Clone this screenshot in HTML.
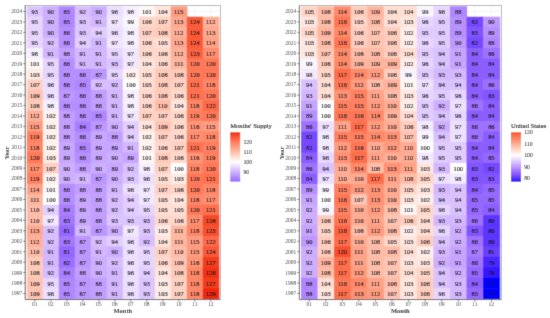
<!DOCTYPE html>
<html><head><meta charset="utf-8"><style>
html,body{margin:0;padding:0;background:#fff;width:550px;height:318px;overflow:hidden}
svg{display:block}
text{font-family:"Liberation Serif",serif}
.n{font-size:7px;fill:#1a1620;stroke:#1a1620;stroke-width:0.18px;text-anchor:middle}
.yl{font-size:5.5px;fill:#444;text-anchor:end}
.xl{font-size:5.6px;fill:#444;text-anchor:middle}
.at{font-size:6.5px;font-weight:bold;fill:#222;text-anchor:middle}
.lt{font-size:6.6px;fill:#111;stroke:#111;stroke-width:0.12px}
.ll{font-size:5.8px;fill:#333;stroke:#333;stroke-width:0.08px}
</style></head><body>
<svg width="550" height="318" viewBox="0 0 550 318">
<defs><filter id="bl" x="0" y="0" width="1" height="1"><feConvolveMatrix order="3" kernelMatrix="0.0121 0.0858 0.0121 0.0858 0.6084 0.0858 0.0121 0.0858 0.0121" edgeMode="duplicate" preserveAlpha="true"/></filter></defs><g filter="url(#bl)">
<rect width="550" height="318" fill="#fff"/>
<rect x="25.2" y="5.4" width="195.20" height="294.20" fill="#fff"/>
<line x1="34.80" y1="5.4" x2="34.80" y2="17.93" stroke="#ebebeb" stroke-width="0.5"/>
<line x1="50.80" y1="5.4" x2="50.80" y2="17.93" stroke="#ebebeb" stroke-width="0.5"/>
<line x1="66.80" y1="5.4" x2="66.80" y2="17.93" stroke="#ebebeb" stroke-width="0.5"/>
<line x1="82.80" y1="5.4" x2="82.80" y2="17.93" stroke="#ebebeb" stroke-width="0.5"/>
<line x1="98.80" y1="5.4" x2="98.80" y2="17.93" stroke="#ebebeb" stroke-width="0.5"/>
<line x1="114.80" y1="5.4" x2="114.80" y2="17.93" stroke="#ebebeb" stroke-width="0.5"/>
<line x1="130.80" y1="5.4" x2="130.80" y2="17.93" stroke="#ebebeb" stroke-width="0.5"/>
<line x1="146.80" y1="5.4" x2="146.80" y2="17.93" stroke="#ebebeb" stroke-width="0.5"/>
<line x1="162.80" y1="5.4" x2="162.80" y2="17.93" stroke="#ebebeb" stroke-width="0.5"/>
<line x1="178.80" y1="5.4" x2="178.80" y2="17.93" stroke="#ebebeb" stroke-width="0.5"/>
<line x1="194.80" y1="5.4" x2="194.80" y2="17.93" stroke="#ebebeb" stroke-width="0.5"/>
<line x1="210.80" y1="5.4" x2="210.80" y2="17.93" stroke="#ebebeb" stroke-width="0.5"/>
<line x1="25.2" y1="11.47" x2="220.4" y2="11.47" stroke="#ebebeb" stroke-width="0.5"/>
<rect x="26.80" y="6.25" width="16.60" height="11.04" fill="#ddc6ff"/>
<rect x="42.80" y="6.25" width="16.60" height="11.04" fill="#cdafff"/>
<rect x="58.80" y="6.25" width="16.60" height="11.04" fill="#b087ff"/>
<rect x="74.80" y="6.25" width="16.60" height="11.04" fill="#d8bfff"/>
<rect x="90.80" y="6.25" width="16.60" height="11.04" fill="#cdafff"/>
<rect x="106.80" y="6.25" width="16.60" height="11.04" fill="#ecdfff"/>
<rect x="122.80" y="6.25" width="16.60" height="11.04" fill="#f6efff"/>
<rect x="138.80" y="6.25" width="16.60" height="11.04" fill="#fff8f6"/>
<rect x="154.80" y="6.25" width="16.60" height="11.04" fill="#ffe5dc"/>
<rect x="170.80" y="6.25" width="16.60" height="11.04" fill="#ff9c80"/>
<rect x="26.80" y="16.70" width="16.60" height="11.04" fill="#e7d6ff"/>
<rect x="42.80" y="16.70" width="16.60" height="11.04" fill="#cdafff"/>
<rect x="58.80" y="16.70" width="16.60" height="11.04" fill="#b087ff"/>
<rect x="74.80" y="16.70" width="16.60" height="11.04" fill="#ddc6ff"/>
<rect x="90.80" y="16.70" width="16.60" height="11.04" fill="#d3b7ff"/>
<rect x="106.80" y="16.70" width="16.60" height="11.04" fill="#f1e7ff"/>
<rect x="122.80" y="16.70" width="16.60" height="11.04" fill="#faf7ff"/>
<rect x="138.80" y="16.70" width="16.60" height="11.04" fill="#ffd8cb"/>
<rect x="154.80" y="16.70" width="16.60" height="11.04" fill="#ffd1c2"/>
<rect x="170.80" y="16.70" width="16.60" height="11.04" fill="#ffa990"/>
<rect x="186.80" y="16.70" width="16.60" height="11.04" fill="#fa5a38"/>
<rect x="202.80" y="16.70" width="16.60" height="11.04" fill="#ffb098"/>
<rect x="26.80" y="27.14" width="16.60" height="11.04" fill="#e7d6ff"/>
<rect x="42.80" y="27.14" width="16.60" height="11.04" fill="#cdafff"/>
<rect x="58.80" y="27.14" width="16.60" height="11.04" fill="#b68fff"/>
<rect x="74.80" y="27.14" width="16.60" height="11.04" fill="#ddc6ff"/>
<rect x="90.80" y="27.14" width="16.60" height="11.04" fill="#e2ceff"/>
<rect x="106.80" y="27.14" width="16.60" height="11.04" fill="#ecdfff"/>
<rect x="122.80" y="27.14" width="16.60" height="11.04" fill="#f6efff"/>
<rect x="138.80" y="27.14" width="16.60" height="11.04" fill="#ffd1c2"/>
<rect x="154.80" y="27.14" width="16.60" height="11.04" fill="#ffcbb9"/>
<rect x="170.80" y="27.14" width="16.60" height="11.04" fill="#ffb098"/>
<rect x="186.80" y="27.14" width="16.60" height="11.04" fill="#fa5a38"/>
<rect x="202.80" y="27.14" width="16.60" height="11.04" fill="#ffa990"/>
<rect x="26.80" y="37.59" width="16.60" height="11.04" fill="#e7d6ff"/>
<rect x="42.80" y="37.59" width="16.60" height="11.04" fill="#d8bfff"/>
<rect x="58.80" y="37.59" width="16.60" height="11.04" fill="#b68fff"/>
<rect x="74.80" y="37.59" width="16.60" height="11.04" fill="#e2ceff"/>
<rect x="90.80" y="37.59" width="16.60" height="11.04" fill="#d3b7ff"/>
<rect x="106.80" y="37.59" width="16.60" height="11.04" fill="#f1e7ff"/>
<rect x="122.80" y="37.59" width="16.60" height="11.04" fill="#f6efff"/>
<rect x="138.80" y="37.59" width="16.60" height="11.04" fill="#ffd8cb"/>
<rect x="154.80" y="37.59" width="16.60" height="11.04" fill="#ffded3"/>
<rect x="170.80" y="37.59" width="16.60" height="11.04" fill="#ffa990"/>
<rect x="186.80" y="37.59" width="16.60" height="11.04" fill="#fa5a38"/>
<rect x="202.80" y="37.59" width="16.60" height="11.04" fill="#ffa388"/>
<rect x="26.80" y="48.03" width="16.60" height="11.04" fill="#f6efff"/>
<rect x="42.80" y="48.03" width="16.60" height="11.04" fill="#d3b7ff"/>
<rect x="58.80" y="48.03" width="16.60" height="11.04" fill="#c29fff"/>
<rect x="74.80" y="48.03" width="16.60" height="11.04" fill="#d3b7ff"/>
<rect x="90.80" y="48.03" width="16.60" height="11.04" fill="#d3b7ff"/>
<rect x="106.80" y="48.03" width="16.60" height="11.04" fill="#e7d6ff"/>
<rect x="122.80" y="48.03" width="16.60" height="11.04" fill="#f1e7ff"/>
<rect x="138.80" y="48.03" width="16.60" height="11.04" fill="#ffd8cb"/>
<rect x="154.80" y="48.03" width="16.60" height="11.04" fill="#ffd8cb"/>
<rect x="170.80" y="48.03" width="16.60" height="11.04" fill="#ffb098"/>
<rect x="186.80" y="48.03" width="16.60" height="11.04" fill="#fc6240"/>
<rect x="202.80" y="48.03" width="16.60" height="11.04" fill="#ff8e6f"/>
<rect x="26.80" y="58.48" width="16.60" height="11.04" fill="#fff8f6"/>
<rect x="42.80" y="58.48" width="16.60" height="11.04" fill="#e7d6ff"/>
<rect x="58.80" y="58.48" width="16.60" height="11.04" fill="#b68fff"/>
<rect x="74.80" y="58.48" width="16.60" height="11.04" fill="#d3b7ff"/>
<rect x="90.80" y="58.48" width="16.60" height="11.04" fill="#d3b7ff"/>
<rect x="106.80" y="58.48" width="16.60" height="11.04" fill="#ddc6ff"/>
<rect x="122.80" y="58.48" width="16.60" height="11.04" fill="#f1e7ff"/>
<rect x="138.80" y="58.48" width="16.60" height="11.04" fill="#ffe5dc"/>
<rect x="154.80" y="58.48" width="16.60" height="11.04" fill="#ffd8cb"/>
<rect x="170.80" y="58.48" width="16.60" height="11.04" fill="#ffb7a0"/>
<rect x="186.80" y="58.48" width="16.60" height="11.04" fill="#ff7958"/>
<rect x="202.80" y="58.48" width="16.60" height="11.04" fill="#ff7958"/>
<rect x="26.80" y="68.92" width="16.60" height="11.04" fill="#ffebe5"/>
<rect x="42.80" y="68.92" width="16.60" height="11.04" fill="#e7d6ff"/>
<rect x="58.80" y="68.92" width="16.60" height="11.04" fill="#b68fff"/>
<rect x="74.80" y="68.92" width="16.60" height="11.04" fill="#b68fff"/>
<rect x="90.80" y="68.92" width="16.60" height="11.04" fill="#bc97ff"/>
<rect x="106.80" y="68.92" width="16.60" height="11.04" fill="#e7d6ff"/>
<rect x="122.80" y="68.92" width="16.60" height="11.04" fill="#fff2ed"/>
<rect x="138.80" y="68.92" width="16.60" height="11.04" fill="#ffded3"/>
<rect x="154.80" y="68.92" width="16.60" height="11.04" fill="#ffcbb9"/>
<rect x="170.80" y="68.92" width="16.60" height="11.04" fill="#ffcbb9"/>
<rect x="186.80" y="68.92" width="16.60" height="11.04" fill="#ff7958"/>
<rect x="202.80" y="68.92" width="16.60" height="11.04" fill="#ff7958"/>
<rect x="26.80" y="79.37" width="16.60" height="11.04" fill="#ffd1c2"/>
<rect x="42.80" y="79.37" width="16.60" height="11.04" fill="#ecdfff"/>
<rect x="58.80" y="79.37" width="16.60" height="11.04" fill="#b68fff"/>
<rect x="74.80" y="79.37" width="16.60" height="11.04" fill="#b087ff"/>
<rect x="90.80" y="79.37" width="16.60" height="11.04" fill="#d8bfff"/>
<rect x="106.80" y="79.37" width="16.60" height="11.04" fill="#d8bfff"/>
<rect x="122.80" y="79.37" width="16.60" height="11.04" fill="#ffffff"/>
<rect x="138.80" y="79.37" width="16.60" height="11.04" fill="#ffded3"/>
<rect x="154.80" y="79.37" width="16.60" height="11.04" fill="#ffcbb9"/>
<rect x="170.80" y="79.37" width="16.60" height="11.04" fill="#ffd1c2"/>
<rect x="186.80" y="79.37" width="16.60" height="11.04" fill="#ff7150"/>
<rect x="202.80" y="79.37" width="16.60" height="11.04" fill="#ff8767"/>
<rect x="26.80" y="89.81" width="16.60" height="11.04" fill="#ffc4b1"/>
<rect x="42.80" y="89.81" width="16.60" height="11.04" fill="#ecdfff"/>
<rect x="58.80" y="89.81" width="16.60" height="11.04" fill="#bc97ff"/>
<rect x="74.80" y="89.81" width="16.60" height="11.04" fill="#b68fff"/>
<rect x="90.80" y="89.81" width="16.60" height="11.04" fill="#c29fff"/>
<rect x="106.80" y="89.81" width="16.60" height="11.04" fill="#d3b7ff"/>
<rect x="122.80" y="89.81" width="16.60" height="11.04" fill="#f6efff"/>
<rect x="138.80" y="89.81" width="16.60" height="11.04" fill="#ffd8cb"/>
<rect x="154.80" y="89.81" width="16.60" height="11.04" fill="#ffcbb9"/>
<rect x="170.80" y="89.81" width="16.60" height="11.04" fill="#ffd8cb"/>
<rect x="186.80" y="89.81" width="16.60" height="11.04" fill="#ff7150"/>
<rect x="202.80" y="89.81" width="16.60" height="11.04" fill="#ff7958"/>
<rect x="26.80" y="100.25" width="16.60" height="11.04" fill="#ffcbb9"/>
<rect x="42.80" y="100.25" width="16.60" height="11.04" fill="#f6efff"/>
<rect x="58.80" y="100.25" width="16.60" height="11.04" fill="#b68fff"/>
<rect x="74.80" y="100.25" width="16.60" height="11.04" fill="#b68fff"/>
<rect x="90.80" y="100.25" width="16.60" height="11.04" fill="#c29fff"/>
<rect x="106.80" y="100.25" width="16.60" height="11.04" fill="#d3b7ff"/>
<rect x="122.80" y="100.25" width="16.60" height="11.04" fill="#f6efff"/>
<rect x="138.80" y="100.25" width="16.60" height="11.04" fill="#ffd8cb"/>
<rect x="154.80" y="100.25" width="16.60" height="11.04" fill="#ffbda9"/>
<rect x="170.80" y="100.25" width="16.60" height="11.04" fill="#ffe5dc"/>
<rect x="186.80" y="100.25" width="16.60" height="11.04" fill="#ff8767"/>
<rect x="202.80" y="100.25" width="16.60" height="11.04" fill="#fe6a48"/>
<rect x="26.80" y="110.70" width="16.60" height="11.04" fill="#ffb098"/>
<rect x="42.80" y="110.70" width="16.60" height="11.04" fill="#fff2ed"/>
<rect x="58.80" y="110.70" width="16.60" height="11.04" fill="#c29fff"/>
<rect x="74.80" y="110.70" width="16.60" height="11.04" fill="#b68fff"/>
<rect x="90.80" y="110.70" width="16.60" height="11.04" fill="#b087ff"/>
<rect x="106.80" y="110.70" width="16.60" height="11.04" fill="#d3b7ff"/>
<rect x="122.80" y="110.70" width="16.60" height="11.04" fill="#f1e7ff"/>
<rect x="138.80" y="110.70" width="16.60" height="11.04" fill="#ffd1c2"/>
<rect x="154.80" y="110.70" width="16.60" height="11.04" fill="#ffd1c2"/>
<rect x="170.80" y="110.70" width="16.60" height="11.04" fill="#ffd8cb"/>
<rect x="186.80" y="110.70" width="16.60" height="11.04" fill="#ff8060"/>
<rect x="202.80" y="110.70" width="16.60" height="11.04" fill="#ff7958"/>
<rect x="26.80" y="121.15" width="16.60" height="11.04" fill="#ff9c80"/>
<rect x="42.80" y="121.15" width="16.60" height="11.04" fill="#fff2ed"/>
<rect x="58.80" y="121.15" width="16.60" height="11.04" fill="#c29fff"/>
<rect x="74.80" y="121.15" width="16.60" height="11.04" fill="#a97fff"/>
<rect x="90.80" y="121.15" width="16.60" height="11.04" fill="#bc97ff"/>
<rect x="106.80" y="121.15" width="16.60" height="11.04" fill="#cdafff"/>
<rect x="122.80" y="121.15" width="16.60" height="11.04" fill="#e2ceff"/>
<rect x="138.80" y="121.15" width="16.60" height="11.04" fill="#ffe5dc"/>
<rect x="154.80" y="121.15" width="16.60" height="11.04" fill="#ffc4b1"/>
<rect x="170.80" y="121.15" width="16.60" height="11.04" fill="#ffd8cb"/>
<rect x="186.80" y="121.15" width="16.60" height="11.04" fill="#ff9577"/>
<rect x="202.80" y="121.15" width="16.60" height="11.04" fill="#ff9c80"/>
<rect x="26.80" y="131.59" width="16.60" height="11.04" fill="#ff8060"/>
<rect x="42.80" y="131.59" width="16.60" height="11.04" fill="#fff2ed"/>
<rect x="58.80" y="131.59" width="16.60" height="11.04" fill="#c29fff"/>
<rect x="74.80" y="131.59" width="16.60" height="11.04" fill="#b68fff"/>
<rect x="90.80" y="131.59" width="16.60" height="11.04" fill="#c8a7ff"/>
<rect x="106.80" y="131.59" width="16.60" height="11.04" fill="#c29fff"/>
<rect x="122.80" y="131.59" width="16.60" height="11.04" fill="#e2ceff"/>
<rect x="138.80" y="131.59" width="16.60" height="11.04" fill="#fff2ed"/>
<rect x="154.80" y="131.59" width="16.60" height="11.04" fill="#ffd1c2"/>
<rect x="170.80" y="131.59" width="16.60" height="11.04" fill="#ffd8cb"/>
<rect x="186.80" y="131.59" width="16.60" height="11.04" fill="#ff8e6f"/>
<rect x="202.80" y="131.59" width="16.60" height="11.04" fill="#ff8767"/>
<rect x="26.80" y="142.03" width="16.60" height="11.04" fill="#ff8767"/>
<rect x="42.80" y="142.03" width="16.60" height="11.04" fill="#fff2ed"/>
<rect x="58.80" y="142.03" width="16.60" height="11.04" fill="#c8a7ff"/>
<rect x="74.80" y="142.03" width="16.60" height="11.04" fill="#b087ff"/>
<rect x="90.80" y="142.03" width="16.60" height="11.04" fill="#c8a7ff"/>
<rect x="106.80" y="142.03" width="16.60" height="11.04" fill="#c8a7ff"/>
<rect x="122.80" y="142.03" width="16.60" height="11.04" fill="#d3b7ff"/>
<rect x="138.80" y="142.03" width="16.60" height="11.04" fill="#fff2ed"/>
<rect x="154.80" y="142.03" width="16.60" height="11.04" fill="#ffd8cb"/>
<rect x="170.80" y="142.03" width="16.60" height="11.04" fill="#ffd1c2"/>
<rect x="186.80" y="142.03" width="16.60" height="11.04" fill="#ff7150"/>
<rect x="202.80" y="142.03" width="16.60" height="11.04" fill="#ff8060"/>
<rect x="26.80" y="152.48" width="16.60" height="11.04" fill="#ff7958"/>
<rect x="42.80" y="152.48" width="16.60" height="11.04" fill="#ffebe5"/>
<rect x="58.80" y="152.48" width="16.60" height="11.04" fill="#c8a7ff"/>
<rect x="74.80" y="152.48" width="16.60" height="11.04" fill="#b68fff"/>
<rect x="90.80" y="152.48" width="16.60" height="11.04" fill="#c8a7ff"/>
<rect x="106.80" y="152.48" width="16.60" height="11.04" fill="#cdafff"/>
<rect x="122.80" y="152.48" width="16.60" height="11.04" fill="#c8a7ff"/>
<rect x="138.80" y="152.48" width="16.60" height="11.04" fill="#fff8f6"/>
<rect x="154.80" y="152.48" width="16.60" height="11.04" fill="#ffcbb9"/>
<rect x="170.80" y="152.48" width="16.60" height="11.04" fill="#ffd8cb"/>
<rect x="186.80" y="152.48" width="16.60" height="11.04" fill="#ff9577"/>
<rect x="202.80" y="152.48" width="16.60" height="11.04" fill="#ff8060"/>
<rect x="26.80" y="162.93" width="16.60" height="11.04" fill="#ff8e6f"/>
<rect x="42.80" y="162.93" width="16.60" height="11.04" fill="#ffd1c2"/>
<rect x="58.80" y="162.93" width="16.60" height="11.04" fill="#cdafff"/>
<rect x="74.80" y="162.93" width="16.60" height="11.04" fill="#c29fff"/>
<rect x="90.80" y="162.93" width="16.60" height="11.04" fill="#cdafff"/>
<rect x="106.80" y="162.93" width="16.60" height="11.04" fill="#c8a7ff"/>
<rect x="122.80" y="162.93" width="16.60" height="11.04" fill="#d8bfff"/>
<rect x="138.80" y="162.93" width="16.60" height="11.04" fill="#f6efff"/>
<rect x="154.80" y="162.93" width="16.60" height="11.04" fill="#ffd1c2"/>
<rect x="170.80" y="162.93" width="16.60" height="11.04" fill="#ffffff"/>
<rect x="186.80" y="162.93" width="16.60" height="11.04" fill="#ff8767"/>
<rect x="202.80" y="162.93" width="16.60" height="11.04" fill="#ff7958"/>
<rect x="26.80" y="173.37" width="16.60" height="11.04" fill="#ff8060"/>
<rect x="42.80" y="173.37" width="16.60" height="11.04" fill="#fff2ed"/>
<rect x="58.80" y="173.37" width="16.60" height="11.04" fill="#cdafff"/>
<rect x="74.80" y="173.37" width="16.60" height="11.04" fill="#d3b7ff"/>
<rect x="90.80" y="173.37" width="16.60" height="11.04" fill="#bc97ff"/>
<rect x="106.80" y="173.37" width="16.60" height="11.04" fill="#cdafff"/>
<rect x="122.80" y="173.37" width="16.60" height="11.04" fill="#ddc6ff"/>
<rect x="138.80" y="173.37" width="16.60" height="11.04" fill="#ecdfff"/>
<rect x="154.80" y="173.37" width="16.60" height="11.04" fill="#ffded3"/>
<rect x="170.80" y="173.37" width="16.60" height="11.04" fill="#ffebe5"/>
<rect x="186.80" y="173.37" width="16.60" height="11.04" fill="#ff7958"/>
<rect x="202.80" y="173.37" width="16.60" height="11.04" fill="#ff7150"/>
<rect x="26.80" y="183.81" width="16.60" height="11.04" fill="#ffa388"/>
<rect x="42.80" y="183.81" width="16.60" height="11.04" fill="#fff8f6"/>
<rect x="58.80" y="183.81" width="16.60" height="11.04" fill="#b68fff"/>
<rect x="74.80" y="183.81" width="16.60" height="11.04" fill="#c29fff"/>
<rect x="90.80" y="183.81" width="16.60" height="11.04" fill="#c29fff"/>
<rect x="106.80" y="183.81" width="16.60" height="11.04" fill="#d3b7ff"/>
<rect x="122.80" y="183.81" width="16.60" height="11.04" fill="#ecdfff"/>
<rect x="138.80" y="183.81" width="16.60" height="11.04" fill="#f1e7ff"/>
<rect x="154.80" y="183.81" width="16.60" height="11.04" fill="#ffd1c2"/>
<rect x="170.80" y="183.81" width="16.60" height="11.04" fill="#ffd8cb"/>
<rect x="186.80" y="183.81" width="16.60" height="11.04" fill="#ff7958"/>
<rect x="202.80" y="183.81" width="16.60" height="11.04" fill="#ff8767"/>
<rect x="26.80" y="194.26" width="16.60" height="11.04" fill="#ffb7a0"/>
<rect x="42.80" y="194.26" width="16.60" height="11.04" fill="#ffffff"/>
<rect x="58.80" y="194.26" width="16.60" height="11.04" fill="#b68fff"/>
<rect x="74.80" y="194.26" width="16.60" height="11.04" fill="#c8a7ff"/>
<rect x="90.80" y="194.26" width="16.60" height="11.04" fill="#c29fff"/>
<rect x="106.80" y="194.26" width="16.60" height="11.04" fill="#d8bfff"/>
<rect x="122.80" y="194.26" width="16.60" height="11.04" fill="#e2ceff"/>
<rect x="138.80" y="194.26" width="16.60" height="11.04" fill="#f1e7ff"/>
<rect x="154.80" y="194.26" width="16.60" height="11.04" fill="#ffded3"/>
<rect x="170.80" y="194.26" width="16.60" height="11.04" fill="#ffe5dc"/>
<rect x="186.80" y="194.26" width="16.60" height="11.04" fill="#ff8767"/>
<rect x="202.80" y="194.26" width="16.60" height="11.04" fill="#ff8e6f"/>
<rect x="26.80" y="204.71" width="16.60" height="11.04" fill="#ffbda9"/>
<rect x="42.80" y="204.71" width="16.60" height="11.04" fill="#e2ceff"/>
<rect x="58.80" y="204.71" width="16.60" height="11.04" fill="#a97fff"/>
<rect x="74.80" y="204.71" width="16.60" height="11.04" fill="#c8a7ff"/>
<rect x="90.80" y="204.71" width="16.60" height="11.04" fill="#c29fff"/>
<rect x="106.80" y="204.71" width="16.60" height="11.04" fill="#d8bfff"/>
<rect x="122.80" y="204.71" width="16.60" height="11.04" fill="#e2ceff"/>
<rect x="138.80" y="204.71" width="16.60" height="11.04" fill="#e7d6ff"/>
<rect x="154.80" y="204.71" width="16.60" height="11.04" fill="#ffded3"/>
<rect x="170.80" y="204.71" width="16.60" height="11.04" fill="#ffded3"/>
<rect x="186.80" y="204.71" width="16.60" height="11.04" fill="#ff7958"/>
<rect x="202.80" y="204.71" width="16.60" height="11.04" fill="#ff7150"/>
<rect x="26.80" y="215.15" width="16.60" height="11.04" fill="#ffbda9"/>
<rect x="42.80" y="215.15" width="16.60" height="11.04" fill="#f1e7ff"/>
<rect x="58.80" y="215.15" width="16.60" height="11.04" fill="#a378ff"/>
<rect x="74.80" y="215.15" width="16.60" height="11.04" fill="#c8a7ff"/>
<rect x="90.80" y="215.15" width="16.60" height="11.04" fill="#c29fff"/>
<rect x="106.80" y="215.15" width="16.60" height="11.04" fill="#ddc6ff"/>
<rect x="122.80" y="215.15" width="16.60" height="11.04" fill="#ddc6ff"/>
<rect x="138.80" y="215.15" width="16.60" height="11.04" fill="#ddc6ff"/>
<rect x="154.80" y="215.15" width="16.60" height="11.04" fill="#ffd8cb"/>
<rect x="170.80" y="215.15" width="16.60" height="11.04" fill="#ffd8cb"/>
<rect x="186.80" y="215.15" width="16.60" height="11.04" fill="#ff8e6f"/>
<rect x="202.80" y="215.15" width="16.60" height="11.04" fill="#f64828"/>
<rect x="26.80" y="225.59" width="16.60" height="11.04" fill="#ffa990"/>
<rect x="42.80" y="225.59" width="16.60" height="11.04" fill="#d8bfff"/>
<rect x="58.80" y="225.59" width="16.60" height="11.04" fill="#9468ff"/>
<rect x="74.80" y="225.59" width="16.60" height="11.04" fill="#d3b7ff"/>
<rect x="90.80" y="225.59" width="16.60" height="11.04" fill="#bc97ff"/>
<rect x="106.80" y="225.59" width="16.60" height="11.04" fill="#cdafff"/>
<rect x="122.80" y="225.59" width="16.60" height="11.04" fill="#f1e7ff"/>
<rect x="138.80" y="225.59" width="16.60" height="11.04" fill="#ddc6ff"/>
<rect x="154.80" y="225.59" width="16.60" height="11.04" fill="#ffebe5"/>
<rect x="170.80" y="225.59" width="16.60" height="11.04" fill="#ffb7a0"/>
<rect x="186.80" y="225.59" width="16.60" height="11.04" fill="#ff8767"/>
<rect x="202.80" y="225.59" width="16.60" height="11.04" fill="#f85130"/>
<rect x="26.80" y="236.04" width="16.60" height="11.04" fill="#ffb098"/>
<rect x="42.80" y="236.04" width="16.60" height="11.04" fill="#d8bfff"/>
<rect x="58.80" y="236.04" width="16.60" height="11.04" fill="#a378ff"/>
<rect x="74.80" y="236.04" width="16.60" height="11.04" fill="#bc97ff"/>
<rect x="90.80" y="236.04" width="16.60" height="11.04" fill="#d8bfff"/>
<rect x="106.80" y="236.04" width="16.60" height="11.04" fill="#e2ceff"/>
<rect x="122.80" y="236.04" width="16.60" height="11.04" fill="#ecdfff"/>
<rect x="138.80" y="236.04" width="16.60" height="11.04" fill="#d8bfff"/>
<rect x="154.80" y="236.04" width="16.60" height="11.04" fill="#ffe5dc"/>
<rect x="170.80" y="236.04" width="16.60" height="11.04" fill="#ffb7a0"/>
<rect x="186.80" y="236.04" width="16.60" height="11.04" fill="#ff9c80"/>
<rect x="202.80" y="236.04" width="16.60" height="11.04" fill="#fe6a48"/>
<rect x="26.80" y="246.49" width="16.60" height="11.04" fill="#ffbda9"/>
<rect x="42.80" y="246.49" width="16.60" height="11.04" fill="#d3b7ff"/>
<rect x="58.80" y="246.49" width="16.60" height="11.04" fill="#9468ff"/>
<rect x="74.80" y="246.49" width="16.60" height="11.04" fill="#bc97ff"/>
<rect x="90.80" y="246.49" width="16.60" height="11.04" fill="#d3b7ff"/>
<rect x="106.80" y="246.49" width="16.60" height="11.04" fill="#cdafff"/>
<rect x="122.80" y="246.49" width="16.60" height="11.04" fill="#ecdfff"/>
<rect x="138.80" y="246.49" width="16.60" height="11.04" fill="#e7d6ff"/>
<rect x="154.80" y="246.49" width="16.60" height="11.04" fill="#ffd1c2"/>
<rect x="170.80" y="246.49" width="16.60" height="11.04" fill="#ffbda9"/>
<rect x="186.80" y="246.49" width="16.60" height="11.04" fill="#ff9c80"/>
<rect x="202.80" y="246.49" width="16.60" height="11.04" fill="#fa5a38"/>
<rect x="26.80" y="256.93" width="16.60" height="11.04" fill="#ffcbb9"/>
<rect x="42.80" y="256.93" width="16.60" height="11.04" fill="#d3b7ff"/>
<rect x="58.80" y="256.93" width="16.60" height="11.04" fill="#9c70ff"/>
<rect x="74.80" y="256.93" width="16.60" height="11.04" fill="#bc97ff"/>
<rect x="90.80" y="256.93" width="16.60" height="11.04" fill="#cdafff"/>
<rect x="106.80" y="256.93" width="16.60" height="11.04" fill="#d8bfff"/>
<rect x="122.80" y="256.93" width="16.60" height="11.04" fill="#ecdfff"/>
<rect x="138.80" y="256.93" width="16.60" height="11.04" fill="#e7d6ff"/>
<rect x="154.80" y="256.93" width="16.60" height="11.04" fill="#ffd8cb"/>
<rect x="170.80" y="256.93" width="16.60" height="11.04" fill="#ffc4b1"/>
<rect x="186.80" y="256.93" width="16.60" height="11.04" fill="#ff9577"/>
<rect x="202.80" y="256.93" width="16.60" height="11.04" fill="#f43e1f"/>
<rect x="26.80" y="267.38" width="16.60" height="11.04" fill="#ffcbb9"/>
<rect x="42.80" y="267.38" width="16.60" height="11.04" fill="#d8bfff"/>
<rect x="58.80" y="267.38" width="16.60" height="11.04" fill="#a97fff"/>
<rect x="74.80" y="267.38" width="16.60" height="11.04" fill="#c29fff"/>
<rect x="90.80" y="267.38" width="16.60" height="11.04" fill="#cdafff"/>
<rect x="106.80" y="267.38" width="16.60" height="11.04" fill="#d3b7ff"/>
<rect x="122.80" y="267.38" width="16.60" height="11.04" fill="#ecdfff"/>
<rect x="138.80" y="267.38" width="16.60" height="11.04" fill="#e2ceff"/>
<rect x="154.80" y="267.38" width="16.60" height="11.04" fill="#ffe5dc"/>
<rect x="170.80" y="267.38" width="16.60" height="11.04" fill="#ffcbb9"/>
<rect x="186.80" y="267.38" width="16.60" height="11.04" fill="#ff8767"/>
<rect x="202.80" y="267.38" width="16.60" height="11.04" fill="#f23316"/>
<rect x="26.80" y="277.82" width="16.60" height="11.04" fill="#ffc4b1"/>
<rect x="42.80" y="277.82" width="16.60" height="11.04" fill="#e7d6ff"/>
<rect x="58.80" y="277.82" width="16.60" height="11.04" fill="#b087ff"/>
<rect x="74.80" y="277.82" width="16.60" height="11.04" fill="#bc97ff"/>
<rect x="90.80" y="277.82" width="16.60" height="11.04" fill="#c29fff"/>
<rect x="106.80" y="277.82" width="16.60" height="11.04" fill="#d3b7ff"/>
<rect x="122.80" y="277.82" width="16.60" height="11.04" fill="#ecdfff"/>
<rect x="138.80" y="277.82" width="16.60" height="11.04" fill="#ddc6ff"/>
<rect x="154.80" y="277.82" width="16.60" height="11.04" fill="#ffebe5"/>
<rect x="170.80" y="277.82" width="16.60" height="11.04" fill="#ffd1c2"/>
<rect x="186.80" y="277.82" width="16.60" height="11.04" fill="#ff8767"/>
<rect x="202.80" y="277.82" width="16.60" height="11.04" fill="#f43e1f"/>
<rect x="26.80" y="288.26" width="16.60" height="11.04" fill="#ffc4b1"/>
<rect x="42.80" y="288.26" width="16.60" height="11.04" fill="#ecdfff"/>
<rect x="58.80" y="288.26" width="16.60" height="11.04" fill="#b087ff"/>
<rect x="74.80" y="288.26" width="16.60" height="11.04" fill="#bc97ff"/>
<rect x="90.80" y="288.26" width="16.60" height="11.04" fill="#c29fff"/>
<rect x="106.80" y="288.26" width="16.60" height="11.04" fill="#d3b7ff"/>
<rect x="122.80" y="288.26" width="16.60" height="11.04" fill="#ecdfff"/>
<rect x="138.80" y="288.26" width="16.60" height="11.04" fill="#ddc6ff"/>
<rect x="154.80" y="288.26" width="16.60" height="11.04" fill="#ffebe5"/>
<rect x="170.80" y="288.26" width="16.60" height="11.04" fill="#ffd1c2"/>
<rect x="186.80" y="288.26" width="16.60" height="11.04" fill="#ff8767"/>
<rect x="202.80" y="288.26" width="16.60" height="11.04" fill="#ef250b"/>
<text transform="translate(34.80,14.02) scale(0.92,1)" class="n">93</text>
<text transform="translate(50.80,14.02) scale(0.92,1)" class="n">90</text>
<text transform="translate(66.80,14.02) scale(0.92,1)" class="n">85</text>
<text transform="translate(82.80,14.02) scale(0.92,1)" class="n">92</text>
<text transform="translate(98.80,14.02) scale(0.92,1)" class="n">90</text>
<text transform="translate(114.80,14.02) scale(0.92,1)" class="n">96</text>
<text transform="translate(130.80,14.02) scale(0.92,1)" class="n">98</text>
<text transform="translate(146.80,14.02) scale(0.92,1)" class="n">101</text>
<text transform="translate(162.80,14.02) scale(0.92,1)" class="n">104</text>
<text transform="translate(178.80,14.02) scale(0.92,1)" class="n">115</text>
<text transform="translate(34.80,24.47) scale(0.92,1)" class="n">95</text>
<text transform="translate(50.80,24.47) scale(0.92,1)" class="n">90</text>
<text transform="translate(66.80,24.47) scale(0.92,1)" class="n">85</text>
<text transform="translate(82.80,24.47) scale(0.92,1)" class="n">93</text>
<text transform="translate(98.80,24.47) scale(0.92,1)" class="n">91</text>
<text transform="translate(114.80,24.47) scale(0.92,1)" class="n">97</text>
<text transform="translate(130.80,24.47) scale(0.92,1)" class="n">99</text>
<text transform="translate(146.80,24.47) scale(0.92,1)" class="n">106</text>
<text transform="translate(162.80,24.47) scale(0.92,1)" class="n">107</text>
<text transform="translate(178.80,24.47) scale(0.92,1)" class="n">113</text>
<text transform="translate(194.80,24.47) scale(0.92,1)" class="n">124</text>
<text transform="translate(210.80,24.47) scale(0.92,1)" class="n">112</text>
<text transform="translate(34.80,34.91) scale(0.92,1)" class="n">95</text>
<text transform="translate(50.80,34.91) scale(0.92,1)" class="n">90</text>
<text transform="translate(66.80,34.91) scale(0.92,1)" class="n">86</text>
<text transform="translate(82.80,34.91) scale(0.92,1)" class="n">93</text>
<text transform="translate(98.80,34.91) scale(0.92,1)" class="n">94</text>
<text transform="translate(114.80,34.91) scale(0.92,1)" class="n">96</text>
<text transform="translate(130.80,34.91) scale(0.92,1)" class="n">98</text>
<text transform="translate(146.80,34.91) scale(0.92,1)" class="n">107</text>
<text transform="translate(162.80,34.91) scale(0.92,1)" class="n">108</text>
<text transform="translate(178.80,34.91) scale(0.92,1)" class="n">112</text>
<text transform="translate(194.80,34.91) scale(0.92,1)" class="n">124</text>
<text transform="translate(210.80,34.91) scale(0.92,1)" class="n">113</text>
<text transform="translate(34.80,45.36) scale(0.92,1)" class="n">95</text>
<text transform="translate(50.80,45.36) scale(0.92,1)" class="n">92</text>
<text transform="translate(66.80,45.36) scale(0.92,1)" class="n">86</text>
<text transform="translate(82.80,45.36) scale(0.92,1)" class="n">94</text>
<text transform="translate(98.80,45.36) scale(0.92,1)" class="n">91</text>
<text transform="translate(114.80,45.36) scale(0.92,1)" class="n">97</text>
<text transform="translate(130.80,45.36) scale(0.92,1)" class="n">98</text>
<text transform="translate(146.80,45.36) scale(0.92,1)" class="n">106</text>
<text transform="translate(162.80,45.36) scale(0.92,1)" class="n">105</text>
<text transform="translate(178.80,45.36) scale(0.92,1)" class="n">113</text>
<text transform="translate(194.80,45.36) scale(0.92,1)" class="n">124</text>
<text transform="translate(210.80,45.36) scale(0.92,1)" class="n">114</text>
<text transform="translate(34.80,55.80) scale(0.92,1)" class="n">98</text>
<text transform="translate(50.80,55.80) scale(0.92,1)" class="n">91</text>
<text transform="translate(66.80,55.80) scale(0.92,1)" class="n">88</text>
<text transform="translate(82.80,55.80) scale(0.92,1)" class="n">91</text>
<text transform="translate(98.80,55.80) scale(0.92,1)" class="n">91</text>
<text transform="translate(114.80,55.80) scale(0.92,1)" class="n">95</text>
<text transform="translate(130.80,55.80) scale(0.92,1)" class="n">97</text>
<text transform="translate(146.80,55.80) scale(0.92,1)" class="n">106</text>
<text transform="translate(162.80,55.80) scale(0.92,1)" class="n">106</text>
<text transform="translate(178.80,55.80) scale(0.92,1)" class="n">112</text>
<text transform="translate(194.80,55.80) scale(0.92,1)" class="n">123</text>
<text transform="translate(210.80,55.80) scale(0.92,1)" class="n">117</text>
<text transform="translate(34.80,66.25) scale(0.92,1)" class="n">101</text>
<text transform="translate(50.80,66.25) scale(0.92,1)" class="n">95</text>
<text transform="translate(66.80,66.25) scale(0.92,1)" class="n">86</text>
<text transform="translate(82.80,66.25) scale(0.92,1)" class="n">91</text>
<text transform="translate(98.80,66.25) scale(0.92,1)" class="n">91</text>
<text transform="translate(114.80,66.25) scale(0.92,1)" class="n">93</text>
<text transform="translate(130.80,66.25) scale(0.92,1)" class="n">97</text>
<text transform="translate(146.80,66.25) scale(0.92,1)" class="n">104</text>
<text transform="translate(162.80,66.25) scale(0.92,1)" class="n">106</text>
<text transform="translate(178.80,66.25) scale(0.92,1)" class="n">111</text>
<text transform="translate(194.80,66.25) scale(0.92,1)" class="n">120</text>
<text transform="translate(210.80,66.25) scale(0.92,1)" class="n">120</text>
<text transform="translate(34.80,76.69) scale(0.92,1)" class="n">103</text>
<text transform="translate(50.80,76.69) scale(0.92,1)" class="n">95</text>
<text transform="translate(66.80,76.69) scale(0.92,1)" class="n">86</text>
<text transform="translate(82.80,76.69) scale(0.92,1)" class="n">86</text>
<text transform="translate(98.80,76.69) scale(0.92,1)" class="n">87</text>
<text transform="translate(114.80,76.69) scale(0.92,1)" class="n">95</text>
<text transform="translate(130.80,76.69) scale(0.92,1)" class="n">102</text>
<text transform="translate(146.80,76.69) scale(0.92,1)" class="n">105</text>
<text transform="translate(162.80,76.69) scale(0.92,1)" class="n">108</text>
<text transform="translate(178.80,76.69) scale(0.92,1)" class="n">108</text>
<text transform="translate(194.80,76.69) scale(0.92,1)" class="n">120</text>
<text transform="translate(210.80,76.69) scale(0.92,1)" class="n">120</text>
<text transform="translate(34.80,87.14) scale(0.92,1)" class="n">107</text>
<text transform="translate(50.80,87.14) scale(0.92,1)" class="n">96</text>
<text transform="translate(66.80,87.14) scale(0.92,1)" class="n">86</text>
<text transform="translate(82.80,87.14) scale(0.92,1)" class="n">85</text>
<text transform="translate(98.80,87.14) scale(0.92,1)" class="n">92</text>
<text transform="translate(114.80,87.14) scale(0.92,1)" class="n">92</text>
<text transform="translate(130.80,87.14) scale(0.92,1)" class="n">100</text>
<text transform="translate(146.80,87.14) scale(0.92,1)" class="n">105</text>
<text transform="translate(162.80,87.14) scale(0.92,1)" class="n">108</text>
<text transform="translate(178.80,87.14) scale(0.92,1)" class="n">107</text>
<text transform="translate(194.80,87.14) scale(0.92,1)" class="n">121</text>
<text transform="translate(210.80,87.14) scale(0.92,1)" class="n">118</text>
<text transform="translate(34.80,97.58) scale(0.92,1)" class="n">109</text>
<text transform="translate(50.80,97.58) scale(0.92,1)" class="n">96</text>
<text transform="translate(66.80,97.58) scale(0.92,1)" class="n">87</text>
<text transform="translate(82.80,97.58) scale(0.92,1)" class="n">86</text>
<text transform="translate(98.80,97.58) scale(0.92,1)" class="n">88</text>
<text transform="translate(114.80,97.58) scale(0.92,1)" class="n">91</text>
<text transform="translate(130.80,97.58) scale(0.92,1)" class="n">98</text>
<text transform="translate(146.80,97.58) scale(0.92,1)" class="n">106</text>
<text transform="translate(162.80,97.58) scale(0.92,1)" class="n">108</text>
<text transform="translate(178.80,97.58) scale(0.92,1)" class="n">106</text>
<text transform="translate(194.80,97.58) scale(0.92,1)" class="n">121</text>
<text transform="translate(210.80,97.58) scale(0.92,1)" class="n">120</text>
<text transform="translate(34.80,108.03) scale(0.92,1)" class="n">108</text>
<text transform="translate(50.80,108.03) scale(0.92,1)" class="n">98</text>
<text transform="translate(66.80,108.03) scale(0.92,1)" class="n">86</text>
<text transform="translate(82.80,108.03) scale(0.92,1)" class="n">86</text>
<text transform="translate(98.80,108.03) scale(0.92,1)" class="n">88</text>
<text transform="translate(114.80,108.03) scale(0.92,1)" class="n">91</text>
<text transform="translate(130.80,108.03) scale(0.92,1)" class="n">98</text>
<text transform="translate(146.80,108.03) scale(0.92,1)" class="n">106</text>
<text transform="translate(162.80,108.03) scale(0.92,1)" class="n">110</text>
<text transform="translate(178.80,108.03) scale(0.92,1)" class="n">104</text>
<text transform="translate(194.80,108.03) scale(0.92,1)" class="n">118</text>
<text transform="translate(210.80,108.03) scale(0.92,1)" class="n">122</text>
<text transform="translate(34.80,118.47) scale(0.92,1)" class="n">112</text>
<text transform="translate(50.80,118.47) scale(0.92,1)" class="n">102</text>
<text transform="translate(66.80,118.47) scale(0.92,1)" class="n">88</text>
<text transform="translate(82.80,118.47) scale(0.92,1)" class="n">86</text>
<text transform="translate(98.80,118.47) scale(0.92,1)" class="n">85</text>
<text transform="translate(114.80,118.47) scale(0.92,1)" class="n">91</text>
<text transform="translate(130.80,118.47) scale(0.92,1)" class="n">97</text>
<text transform="translate(146.80,118.47) scale(0.92,1)" class="n">107</text>
<text transform="translate(162.80,118.47) scale(0.92,1)" class="n">107</text>
<text transform="translate(178.80,118.47) scale(0.92,1)" class="n">106</text>
<text transform="translate(194.80,118.47) scale(0.92,1)" class="n">119</text>
<text transform="translate(210.80,118.47) scale(0.92,1)" class="n">120</text>
<text transform="translate(34.80,128.92) scale(0.92,1)" class="n">115</text>
<text transform="translate(50.80,128.92) scale(0.92,1)" class="n">102</text>
<text transform="translate(66.80,128.92) scale(0.92,1)" class="n">88</text>
<text transform="translate(82.80,128.92) scale(0.92,1)" class="n">84</text>
<text transform="translate(98.80,128.92) scale(0.92,1)" class="n">87</text>
<text transform="translate(114.80,128.92) scale(0.92,1)" class="n">90</text>
<text transform="translate(130.80,128.92) scale(0.92,1)" class="n">94</text>
<text transform="translate(146.80,128.92) scale(0.92,1)" class="n">104</text>
<text transform="translate(162.80,128.92) scale(0.92,1)" class="n">109</text>
<text transform="translate(178.80,128.92) scale(0.92,1)" class="n">106</text>
<text transform="translate(194.80,128.92) scale(0.92,1)" class="n">116</text>
<text transform="translate(210.80,128.92) scale(0.92,1)" class="n">115</text>
<text transform="translate(34.80,139.36) scale(0.92,1)" class="n">119</text>
<text transform="translate(50.80,139.36) scale(0.92,1)" class="n">102</text>
<text transform="translate(66.80,139.36) scale(0.92,1)" class="n">88</text>
<text transform="translate(82.80,139.36) scale(0.92,1)" class="n">86</text>
<text transform="translate(98.80,139.36) scale(0.92,1)" class="n">89</text>
<text transform="translate(114.80,139.36) scale(0.92,1)" class="n">88</text>
<text transform="translate(130.80,139.36) scale(0.92,1)" class="n">94</text>
<text transform="translate(146.80,139.36) scale(0.92,1)" class="n">102</text>
<text transform="translate(162.80,139.36) scale(0.92,1)" class="n">107</text>
<text transform="translate(178.80,139.36) scale(0.92,1)" class="n">106</text>
<text transform="translate(194.80,139.36) scale(0.92,1)" class="n">117</text>
<text transform="translate(210.80,139.36) scale(0.92,1)" class="n">118</text>
<text transform="translate(34.80,149.81) scale(0.92,1)" class="n">118</text>
<text transform="translate(50.80,149.81) scale(0.92,1)" class="n">102</text>
<text transform="translate(66.80,149.81) scale(0.92,1)" class="n">89</text>
<text transform="translate(82.80,149.81) scale(0.92,1)" class="n">85</text>
<text transform="translate(98.80,149.81) scale(0.92,1)" class="n">89</text>
<text transform="translate(114.80,149.81) scale(0.92,1)" class="n">89</text>
<text transform="translate(130.80,149.81) scale(0.92,1)" class="n">91</text>
<text transform="translate(146.80,149.81) scale(0.92,1)" class="n">102</text>
<text transform="translate(162.80,149.81) scale(0.92,1)" class="n">106</text>
<text transform="translate(178.80,149.81) scale(0.92,1)" class="n">107</text>
<text transform="translate(194.80,149.81) scale(0.92,1)" class="n">121</text>
<text transform="translate(210.80,149.81) scale(0.92,1)" class="n">119</text>
<text transform="translate(34.80,160.25) scale(0.92,1)" class="n">120</text>
<text transform="translate(50.80,160.25) scale(0.92,1)" class="n">103</text>
<text transform="translate(66.80,160.25) scale(0.92,1)" class="n">89</text>
<text transform="translate(82.80,160.25) scale(0.92,1)" class="n">86</text>
<text transform="translate(98.80,160.25) scale(0.92,1)" class="n">89</text>
<text transform="translate(114.80,160.25) scale(0.92,1)" class="n">90</text>
<text transform="translate(130.80,160.25) scale(0.92,1)" class="n">89</text>
<text transform="translate(146.80,160.25) scale(0.92,1)" class="n">101</text>
<text transform="translate(162.80,160.25) scale(0.92,1)" class="n">108</text>
<text transform="translate(178.80,160.25) scale(0.92,1)" class="n">106</text>
<text transform="translate(194.80,160.25) scale(0.92,1)" class="n">116</text>
<text transform="translate(210.80,160.25) scale(0.92,1)" class="n">119</text>
<text transform="translate(34.80,170.70) scale(0.92,1)" class="n">117</text>
<text transform="translate(50.80,170.70) scale(0.92,1)" class="n">107</text>
<text transform="translate(66.80,170.70) scale(0.92,1)" class="n">90</text>
<text transform="translate(82.80,170.70) scale(0.92,1)" class="n">88</text>
<text transform="translate(98.80,170.70) scale(0.92,1)" class="n">90</text>
<text transform="translate(114.80,170.70) scale(0.92,1)" class="n">89</text>
<text transform="translate(130.80,170.70) scale(0.92,1)" class="n">92</text>
<text transform="translate(146.80,170.70) scale(0.92,1)" class="n">98</text>
<text transform="translate(162.80,170.70) scale(0.92,1)" class="n">107</text>
<text transform="translate(178.80,170.70) scale(0.92,1)" class="n">100</text>
<text transform="translate(194.80,170.70) scale(0.92,1)" class="n">118</text>
<text transform="translate(210.80,170.70) scale(0.92,1)" class="n">120</text>
<text transform="translate(34.80,181.14) scale(0.92,1)" class="n">119</text>
<text transform="translate(50.80,181.14) scale(0.92,1)" class="n">102</text>
<text transform="translate(66.80,181.14) scale(0.92,1)" class="n">90</text>
<text transform="translate(82.80,181.14) scale(0.92,1)" class="n">91</text>
<text transform="translate(98.80,181.14) scale(0.92,1)" class="n">87</text>
<text transform="translate(114.80,181.14) scale(0.92,1)" class="n">90</text>
<text transform="translate(130.80,181.14) scale(0.92,1)" class="n">93</text>
<text transform="translate(146.80,181.14) scale(0.92,1)" class="n">96</text>
<text transform="translate(162.80,181.14) scale(0.92,1)" class="n">105</text>
<text transform="translate(178.80,181.14) scale(0.92,1)" class="n">103</text>
<text transform="translate(194.80,181.14) scale(0.92,1)" class="n">120</text>
<text transform="translate(210.80,181.14) scale(0.92,1)" class="n">121</text>
<text transform="translate(34.80,191.59) scale(0.92,1)" class="n">114</text>
<text transform="translate(50.80,191.59) scale(0.92,1)" class="n">101</text>
<text transform="translate(66.80,191.59) scale(0.92,1)" class="n">86</text>
<text transform="translate(82.80,191.59) scale(0.92,1)" class="n">88</text>
<text transform="translate(98.80,191.59) scale(0.92,1)" class="n">88</text>
<text transform="translate(114.80,191.59) scale(0.92,1)" class="n">91</text>
<text transform="translate(130.80,191.59) scale(0.92,1)" class="n">96</text>
<text transform="translate(146.80,191.59) scale(0.92,1)" class="n">97</text>
<text transform="translate(162.80,191.59) scale(0.92,1)" class="n">107</text>
<text transform="translate(178.80,191.59) scale(0.92,1)" class="n">106</text>
<text transform="translate(194.80,191.59) scale(0.92,1)" class="n">120</text>
<text transform="translate(210.80,191.59) scale(0.92,1)" class="n">118</text>
<text transform="translate(34.80,202.03) scale(0.92,1)" class="n">111</text>
<text transform="translate(50.80,202.03) scale(0.92,1)" class="n">100</text>
<text transform="translate(66.80,202.03) scale(0.92,1)" class="n">86</text>
<text transform="translate(82.80,202.03) scale(0.92,1)" class="n">89</text>
<text transform="translate(98.80,202.03) scale(0.92,1)" class="n">88</text>
<text transform="translate(114.80,202.03) scale(0.92,1)" class="n">92</text>
<text transform="translate(130.80,202.03) scale(0.92,1)" class="n">94</text>
<text transform="translate(146.80,202.03) scale(0.92,1)" class="n">97</text>
<text transform="translate(162.80,202.03) scale(0.92,1)" class="n">105</text>
<text transform="translate(178.80,202.03) scale(0.92,1)" class="n">104</text>
<text transform="translate(194.80,202.03) scale(0.92,1)" class="n">118</text>
<text transform="translate(210.80,202.03) scale(0.92,1)" class="n">117</text>
<text transform="translate(34.80,212.48) scale(0.92,1)" class="n">110</text>
<text transform="translate(50.80,212.48) scale(0.92,1)" class="n">94</text>
<text transform="translate(66.80,212.48) scale(0.92,1)" class="n">84</text>
<text transform="translate(82.80,212.48) scale(0.92,1)" class="n">89</text>
<text transform="translate(98.80,212.48) scale(0.92,1)" class="n">88</text>
<text transform="translate(114.80,212.48) scale(0.92,1)" class="n">92</text>
<text transform="translate(130.80,212.48) scale(0.92,1)" class="n">94</text>
<text transform="translate(146.80,212.48) scale(0.92,1)" class="n">95</text>
<text transform="translate(162.80,212.48) scale(0.92,1)" class="n">105</text>
<text transform="translate(178.80,212.48) scale(0.92,1)" class="n">105</text>
<text transform="translate(194.80,212.48) scale(0.92,1)" class="n">120</text>
<text transform="translate(210.80,212.48) scale(0.92,1)" class="n">121</text>
<text transform="translate(34.80,222.92) scale(0.92,1)" class="n">110</text>
<text transform="translate(50.80,222.92) scale(0.92,1)" class="n">97</text>
<text transform="translate(66.80,222.92) scale(0.92,1)" class="n">83</text>
<text transform="translate(82.80,222.92) scale(0.92,1)" class="n">89</text>
<text transform="translate(98.80,222.92) scale(0.92,1)" class="n">88</text>
<text transform="translate(114.80,222.92) scale(0.92,1)" class="n">93</text>
<text transform="translate(130.80,222.92) scale(0.92,1)" class="n">93</text>
<text transform="translate(146.80,222.92) scale(0.92,1)" class="n">93</text>
<text transform="translate(162.80,222.92) scale(0.92,1)" class="n">106</text>
<text transform="translate(178.80,222.92) scale(0.92,1)" class="n">106</text>
<text transform="translate(194.80,222.92) scale(0.92,1)" class="n">117</text>
<text transform="translate(210.80,222.92) scale(0.92,1)" class="n">126</text>
<text transform="translate(34.80,233.37) scale(0.92,1)" class="n">113</text>
<text transform="translate(50.80,233.37) scale(0.92,1)" class="n">92</text>
<text transform="translate(66.80,233.37) scale(0.92,1)" class="n">81</text>
<text transform="translate(82.80,233.37) scale(0.92,1)" class="n">91</text>
<text transform="translate(98.80,233.37) scale(0.92,1)" class="n">87</text>
<text transform="translate(114.80,233.37) scale(0.92,1)" class="n">90</text>
<text transform="translate(130.80,233.37) scale(0.92,1)" class="n">97</text>
<text transform="translate(146.80,233.37) scale(0.92,1)" class="n">93</text>
<text transform="translate(162.80,233.37) scale(0.92,1)" class="n">103</text>
<text transform="translate(178.80,233.37) scale(0.92,1)" class="n">111</text>
<text transform="translate(194.80,233.37) scale(0.92,1)" class="n">118</text>
<text transform="translate(210.80,233.37) scale(0.92,1)" class="n">125</text>
<text transform="translate(34.80,243.81) scale(0.92,1)" class="n">112</text>
<text transform="translate(50.80,243.81) scale(0.92,1)" class="n">92</text>
<text transform="translate(66.80,243.81) scale(0.92,1)" class="n">83</text>
<text transform="translate(82.80,243.81) scale(0.92,1)" class="n">87</text>
<text transform="translate(98.80,243.81) scale(0.92,1)" class="n">92</text>
<text transform="translate(114.80,243.81) scale(0.92,1)" class="n">94</text>
<text transform="translate(130.80,243.81) scale(0.92,1)" class="n">96</text>
<text transform="translate(146.80,243.81) scale(0.92,1)" class="n">92</text>
<text transform="translate(162.80,243.81) scale(0.92,1)" class="n">104</text>
<text transform="translate(178.80,243.81) scale(0.92,1)" class="n">111</text>
<text transform="translate(194.80,243.81) scale(0.92,1)" class="n">115</text>
<text transform="translate(210.80,243.81) scale(0.92,1)" class="n">122</text>
<text transform="translate(34.80,254.26) scale(0.92,1)" class="n">110</text>
<text transform="translate(50.80,254.26) scale(0.92,1)" class="n">91</text>
<text transform="translate(66.80,254.26) scale(0.92,1)" class="n">81</text>
<text transform="translate(82.80,254.26) scale(0.92,1)" class="n">87</text>
<text transform="translate(98.80,254.26) scale(0.92,1)" class="n">91</text>
<text transform="translate(114.80,254.26) scale(0.92,1)" class="n">90</text>
<text transform="translate(130.80,254.26) scale(0.92,1)" class="n">96</text>
<text transform="translate(146.80,254.26) scale(0.92,1)" class="n">95</text>
<text transform="translate(162.80,254.26) scale(0.92,1)" class="n">107</text>
<text transform="translate(178.80,254.26) scale(0.92,1)" class="n">110</text>
<text transform="translate(194.80,254.26) scale(0.92,1)" class="n">115</text>
<text transform="translate(210.80,254.26) scale(0.92,1)" class="n">124</text>
<text transform="translate(34.80,264.70) scale(0.92,1)" class="n">108</text>
<text transform="translate(50.80,264.70) scale(0.92,1)" class="n">91</text>
<text transform="translate(66.80,264.70) scale(0.92,1)" class="n">82</text>
<text transform="translate(82.80,264.70) scale(0.92,1)" class="n">87</text>
<text transform="translate(98.80,264.70) scale(0.92,1)" class="n">90</text>
<text transform="translate(114.80,264.70) scale(0.92,1)" class="n">92</text>
<text transform="translate(130.80,264.70) scale(0.92,1)" class="n">96</text>
<text transform="translate(146.80,264.70) scale(0.92,1)" class="n">95</text>
<text transform="translate(162.80,264.70) scale(0.92,1)" class="n">106</text>
<text transform="translate(178.80,264.70) scale(0.92,1)" class="n">109</text>
<text transform="translate(194.80,264.70) scale(0.92,1)" class="n">116</text>
<text transform="translate(210.80,264.70) scale(0.92,1)" class="n">127</text>
<text transform="translate(34.80,275.15) scale(0.92,1)" class="n">108</text>
<text transform="translate(50.80,275.15) scale(0.92,1)" class="n">92</text>
<text transform="translate(66.80,275.15) scale(0.92,1)" class="n">84</text>
<text transform="translate(82.80,275.15) scale(0.92,1)" class="n">88</text>
<text transform="translate(98.80,275.15) scale(0.92,1)" class="n">90</text>
<text transform="translate(114.80,275.15) scale(0.92,1)" class="n">91</text>
<text transform="translate(130.80,275.15) scale(0.92,1)" class="n">96</text>
<text transform="translate(146.80,275.15) scale(0.92,1)" class="n">94</text>
<text transform="translate(162.80,275.15) scale(0.92,1)" class="n">104</text>
<text transform="translate(178.80,275.15) scale(0.92,1)" class="n">108</text>
<text transform="translate(194.80,275.15) scale(0.92,1)" class="n">118</text>
<text transform="translate(210.80,275.15) scale(0.92,1)" class="n">128</text>
<text transform="translate(34.80,285.59) scale(0.92,1)" class="n">109</text>
<text transform="translate(50.80,285.59) scale(0.92,1)" class="n">95</text>
<text transform="translate(66.80,285.59) scale(0.92,1)" class="n">85</text>
<text transform="translate(82.80,285.59) scale(0.92,1)" class="n">87</text>
<text transform="translate(98.80,285.59) scale(0.92,1)" class="n">88</text>
<text transform="translate(114.80,285.59) scale(0.92,1)" class="n">91</text>
<text transform="translate(130.80,285.59) scale(0.92,1)" class="n">96</text>
<text transform="translate(146.80,285.59) scale(0.92,1)" class="n">93</text>
<text transform="translate(162.80,285.59) scale(0.92,1)" class="n">103</text>
<text transform="translate(178.80,285.59) scale(0.92,1)" class="n">107</text>
<text transform="translate(194.80,285.59) scale(0.92,1)" class="n">118</text>
<text transform="translate(210.80,285.59) scale(0.92,1)" class="n">127</text>
<text transform="translate(34.80,296.04) scale(0.92,1)" class="n">109</text>
<text transform="translate(50.80,296.04) scale(0.92,1)" class="n">96</text>
<text transform="translate(66.80,296.04) scale(0.92,1)" class="n">85</text>
<text transform="translate(82.80,296.04) scale(0.92,1)" class="n">87</text>
<text transform="translate(98.80,296.04) scale(0.92,1)" class="n">88</text>
<text transform="translate(114.80,296.04) scale(0.92,1)" class="n">91</text>
<text transform="translate(130.80,296.04) scale(0.92,1)" class="n">96</text>
<text transform="translate(146.80,296.04) scale(0.92,1)" class="n">93</text>
<text transform="translate(162.80,296.04) scale(0.92,1)" class="n">103</text>
<text transform="translate(178.80,296.04) scale(0.92,1)" class="n">107</text>
<text transform="translate(194.80,296.04) scale(0.92,1)" class="n">118</text>
<text transform="translate(210.80,296.04) scale(0.92,1)" class="n">129</text>
<rect x="25.2" y="5.4" width="195.20" height="294.20" fill="none" stroke="#8a8a8a" stroke-width="0.6"/>
<path d="M25.2 5.4 V299.6 H220.4" fill="none" stroke="#505050" stroke-width="0.7"/>
<line x1="23.20" y1="11.47" x2="25.2" y2="11.47" stroke="#333" stroke-width="0.6"/>
<text x="22.2" y="13.37" class="yl">2024</text>
<line x1="23.20" y1="21.92" x2="25.2" y2="21.92" stroke="#333" stroke-width="0.6"/>
<text x="22.2" y="23.82" class="yl">2023</text>
<line x1="23.20" y1="32.36" x2="25.2" y2="32.36" stroke="#333" stroke-width="0.6"/>
<text x="22.2" y="34.26" class="yl">2022</text>
<line x1="23.20" y1="42.81" x2="25.2" y2="42.81" stroke="#333" stroke-width="0.6"/>
<text x="22.2" y="44.71" class="yl">2021</text>
<line x1="23.20" y1="53.25" x2="25.2" y2="53.25" stroke="#333" stroke-width="0.6"/>
<text x="22.2" y="55.15" class="yl">2020</text>
<line x1="23.20" y1="63.70" x2="25.2" y2="63.70" stroke="#333" stroke-width="0.6"/>
<text x="22.2" y="65.60" class="yl">2019</text>
<line x1="23.20" y1="74.14" x2="25.2" y2="74.14" stroke="#333" stroke-width="0.6"/>
<text x="22.2" y="76.04" class="yl">2018</text>
<line x1="23.20" y1="84.59" x2="25.2" y2="84.59" stroke="#333" stroke-width="0.6"/>
<text x="22.2" y="86.49" class="yl">2017</text>
<line x1="23.20" y1="95.03" x2="25.2" y2="95.03" stroke="#333" stroke-width="0.6"/>
<text x="22.2" y="96.93" class="yl">2016</text>
<line x1="23.20" y1="105.48" x2="25.2" y2="105.48" stroke="#333" stroke-width="0.6"/>
<text x="22.2" y="107.38" class="yl">2015</text>
<line x1="23.20" y1="115.92" x2="25.2" y2="115.92" stroke="#333" stroke-width="0.6"/>
<text x="22.2" y="117.82" class="yl">2014</text>
<line x1="23.20" y1="126.37" x2="25.2" y2="126.37" stroke="#333" stroke-width="0.6"/>
<text x="22.2" y="128.27" class="yl">2013</text>
<line x1="23.20" y1="136.81" x2="25.2" y2="136.81" stroke="#333" stroke-width="0.6"/>
<text x="22.2" y="138.71" class="yl">2012</text>
<line x1="23.20" y1="147.26" x2="25.2" y2="147.26" stroke="#333" stroke-width="0.6"/>
<text x="22.2" y="149.16" class="yl">2011</text>
<line x1="23.20" y1="157.70" x2="25.2" y2="157.70" stroke="#333" stroke-width="0.6"/>
<text x="22.2" y="159.60" class="yl">2010</text>
<line x1="23.20" y1="168.15" x2="25.2" y2="168.15" stroke="#333" stroke-width="0.6"/>
<text x="22.2" y="170.05" class="yl">2009</text>
<line x1="23.20" y1="178.59" x2="25.2" y2="178.59" stroke="#333" stroke-width="0.6"/>
<text x="22.2" y="180.49" class="yl">2008</text>
<line x1="23.20" y1="189.04" x2="25.2" y2="189.04" stroke="#333" stroke-width="0.6"/>
<text x="22.2" y="190.94" class="yl">2007</text>
<line x1="23.20" y1="199.48" x2="25.2" y2="199.48" stroke="#333" stroke-width="0.6"/>
<text x="22.2" y="201.38" class="yl">2006</text>
<line x1="23.20" y1="209.93" x2="25.2" y2="209.93" stroke="#333" stroke-width="0.6"/>
<text x="22.2" y="211.83" class="yl">2005</text>
<line x1="23.20" y1="220.37" x2="25.2" y2="220.37" stroke="#333" stroke-width="0.6"/>
<text x="22.2" y="222.27" class="yl">2004</text>
<line x1="23.20" y1="230.82" x2="25.2" y2="230.82" stroke="#333" stroke-width="0.6"/>
<text x="22.2" y="232.72" class="yl">2003</text>
<line x1="23.20" y1="241.26" x2="25.2" y2="241.26" stroke="#333" stroke-width="0.6"/>
<text x="22.2" y="243.16" class="yl">2002</text>
<line x1="23.20" y1="251.71" x2="25.2" y2="251.71" stroke="#333" stroke-width="0.6"/>
<text x="22.2" y="253.61" class="yl">2001</text>
<line x1="23.20" y1="262.15" x2="25.2" y2="262.15" stroke="#333" stroke-width="0.6"/>
<text x="22.2" y="264.05" class="yl">2000</text>
<line x1="23.20" y1="272.60" x2="25.2" y2="272.60" stroke="#333" stroke-width="0.6"/>
<text x="22.2" y="274.50" class="yl">1999</text>
<line x1="23.20" y1="283.04" x2="25.2" y2="283.04" stroke="#333" stroke-width="0.6"/>
<text x="22.2" y="284.94" class="yl">1998</text>
<line x1="23.20" y1="293.49" x2="25.2" y2="293.49" stroke="#333" stroke-width="0.6"/>
<text x="22.2" y="295.39" class="yl">1997</text>
<line x1="34.80" y1="299.6" x2="34.80" y2="301.6" stroke="#333" stroke-width="0.6"/>
<text x="34.80" y="306.20" class="xl">01</text>
<line x1="50.80" y1="299.6" x2="50.80" y2="301.6" stroke="#333" stroke-width="0.6"/>
<text x="50.80" y="306.20" class="xl">02</text>
<line x1="66.80" y1="299.6" x2="66.80" y2="301.6" stroke="#333" stroke-width="0.6"/>
<text x="66.80" y="306.20" class="xl">03</text>
<line x1="82.80" y1="299.6" x2="82.80" y2="301.6" stroke="#333" stroke-width="0.6"/>
<text x="82.80" y="306.20" class="xl">04</text>
<line x1="98.80" y1="299.6" x2="98.80" y2="301.6" stroke="#333" stroke-width="0.6"/>
<text x="98.80" y="306.20" class="xl">05</text>
<line x1="114.80" y1="299.6" x2="114.80" y2="301.6" stroke="#333" stroke-width="0.6"/>
<text x="114.80" y="306.20" class="xl">06</text>
<line x1="130.80" y1="299.6" x2="130.80" y2="301.6" stroke="#333" stroke-width="0.6"/>
<text x="130.80" y="306.20" class="xl">07</text>
<line x1="146.80" y1="299.6" x2="146.80" y2="301.6" stroke="#333" stroke-width="0.6"/>
<text x="146.80" y="306.20" class="xl">08</text>
<line x1="162.80" y1="299.6" x2="162.80" y2="301.6" stroke="#333" stroke-width="0.6"/>
<text x="162.80" y="306.20" class="xl">09</text>
<line x1="178.80" y1="299.6" x2="178.80" y2="301.6" stroke="#333" stroke-width="0.6"/>
<text x="178.80" y="306.20" class="xl">10</text>
<line x1="194.80" y1="299.6" x2="194.80" y2="301.6" stroke="#333" stroke-width="0.6"/>
<text x="194.80" y="306.20" class="xl">11</text>
<line x1="210.80" y1="299.6" x2="210.80" y2="301.6" stroke="#333" stroke-width="0.6"/>
<text x="210.80" y="306.20" class="xl">12</text>
<text x="122.80" y="313.0" class="at">Month</text>
<text transform="translate(9.2,153.0) rotate(-90)" class="at" x="0" y="0">Year</text>
<defs><linearGradient id="gMon" x1="0" y1="1" x2="0" y2="0"><stop offset="0.000" stop-color="#9468ff"/><stop offset="0.010" stop-color="#986cff"/><stop offset="0.020" stop-color="#9b6fff"/><stop offset="0.030" stop-color="#9f73ff"/><stop offset="0.040" stop-color="#a277ff"/><stop offset="0.050" stop-color="#a57bff"/><stop offset="0.060" stop-color="#a87eff"/><stop offset="0.070" stop-color="#ac82ff"/><stop offset="0.080" stop-color="#af86ff"/><stop offset="0.090" stop-color="#b28aff"/><stop offset="0.100" stop-color="#b58eff"/><stop offset="0.110" stop-color="#b891ff"/><stop offset="0.120" stop-color="#bb95ff"/><stop offset="0.130" stop-color="#bd99ff"/><stop offset="0.140" stop-color="#c09dff"/><stop offset="0.150" stop-color="#c3a0ff"/><stop offset="0.160" stop-color="#c6a4ff"/><stop offset="0.170" stop-color="#c9a8ff"/><stop offset="0.180" stop-color="#cbacff"/><stop offset="0.190" stop-color="#ceb0ff"/><stop offset="0.200" stop-color="#d1b3ff"/><stop offset="0.210" stop-color="#d3b7ff"/><stop offset="0.220" stop-color="#d6bbff"/><stop offset="0.230" stop-color="#d8bfff"/><stop offset="0.240" stop-color="#dbc3ff"/><stop offset="0.250" stop-color="#ddc6ff"/><stop offset="0.260" stop-color="#e0caff"/><stop offset="0.270" stop-color="#e2ceff"/><stop offset="0.280" stop-color="#e5d2ff"/><stop offset="0.290" stop-color="#e7d6ff"/><stop offset="0.300" stop-color="#e9daff"/><stop offset="0.310" stop-color="#ecdeff"/><stop offset="0.320" stop-color="#eee1ff"/><stop offset="0.330" stop-color="#f0e5ff"/><stop offset="0.340" stop-color="#f3e9ff"/><stop offset="0.350" stop-color="#f5edff"/><stop offset="0.360" stop-color="#f7f1ff"/><stop offset="0.370" stop-color="#f9f5ff"/><stop offset="0.380" stop-color="#fcf9ff"/><stop offset="0.390" stop-color="#fefdff"/><stop offset="0.400" stop-color="#fffefd"/><stop offset="0.410" stop-color="#fffbf9"/><stop offset="0.420" stop-color="#fff7f5"/><stop offset="0.430" stop-color="#fff4f0"/><stop offset="0.440" stop-color="#fff1ec"/><stop offset="0.450" stop-color="#ffeee8"/><stop offset="0.460" stop-color="#ffebe4"/><stop offset="0.470" stop-color="#ffe8e0"/><stop offset="0.480" stop-color="#ffe5db"/><stop offset="0.490" stop-color="#ffe1d7"/><stop offset="0.500" stop-color="#ffded3"/><stop offset="0.510" stop-color="#ffdbcf"/><stop offset="0.520" stop-color="#ffd8cb"/><stop offset="0.530" stop-color="#ffd5c7"/><stop offset="0.540" stop-color="#ffd2c3"/><stop offset="0.550" stop-color="#ffcfbf"/><stop offset="0.560" stop-color="#ffcbbb"/><stop offset="0.570" stop-color="#ffc8b6"/><stop offset="0.580" stop-color="#ffc5b2"/><stop offset="0.590" stop-color="#ffc2ae"/><stop offset="0.600" stop-color="#ffbfaa"/><stop offset="0.610" stop-color="#ffbca6"/><stop offset="0.620" stop-color="#ffb8a2"/><stop offset="0.630" stop-color="#ffb59e"/><stop offset="0.640" stop-color="#ffb29a"/><stop offset="0.650" stop-color="#ffaf96"/><stop offset="0.660" stop-color="#ffac92"/><stop offset="0.670" stop-color="#ffa88e"/><stop offset="0.680" stop-color="#ffa58b"/><stop offset="0.690" stop-color="#ffa287"/><stop offset="0.700" stop-color="#ff9f83"/><stop offset="0.710" stop-color="#ff9b7f"/><stop offset="0.720" stop-color="#ff987b"/><stop offset="0.730" stop-color="#ff9577"/><stop offset="0.740" stop-color="#ff9173"/><stop offset="0.750" stop-color="#ff8e6f"/><stop offset="0.760" stop-color="#ff8b6c"/><stop offset="0.770" stop-color="#ff8768"/><stop offset="0.780" stop-color="#ff8464"/><stop offset="0.790" stop-color="#ff8160"/><stop offset="0.800" stop-color="#ff7d5c"/><stop offset="0.810" stop-color="#ff7a59"/><stop offset="0.820" stop-color="#ff7655"/><stop offset="0.830" stop-color="#ff7351"/><stop offset="0.840" stop-color="#ff6f4d"/><stop offset="0.850" stop-color="#ff6b49"/><stop offset="0.860" stop-color="#fe6846"/><stop offset="0.870" stop-color="#fd6442"/><stop offset="0.880" stop-color="#fc603e"/><stop offset="0.890" stop-color="#fb5c3a"/><stop offset="0.900" stop-color="#fa5836"/><stop offset="0.910" stop-color="#f95433"/><stop offset="0.920" stop-color="#f8502f"/><stop offset="0.930" stop-color="#f74b2b"/><stop offset="0.940" stop-color="#f64727"/><stop offset="0.950" stop-color="#f54223"/><stop offset="0.960" stop-color="#f43d1f"/><stop offset="0.970" stop-color="#f3381a"/><stop offset="0.980" stop-color="#f13215"/><stop offset="0.990" stop-color="#f02c10"/><stop offset="1.000" stop-color="#ef250b"/></linearGradient></defs>
<rect x="230.2" y="132.3" width="10.0" height="49.30" fill="url(#gMon)"/>
<text x="243.40" y="174.36" class="ll">90</text>
<text x="243.40" y="164.09" class="ll">100</text>
<text x="243.40" y="153.81" class="ll">110</text>
<text x="243.40" y="143.54" class="ll">120</text>
<text x="230.2" y="128.2" class="lt">Months' Supply</text>
<rect x="299.3" y="5.4" width="202.00" height="294.20" fill="#fff"/>
<line x1="309.24" y1="5.4" x2="309.24" y2="17.93" stroke="#ebebeb" stroke-width="0.5"/>
<line x1="325.80" y1="5.4" x2="325.80" y2="17.93" stroke="#ebebeb" stroke-width="0.5"/>
<line x1="342.35" y1="5.4" x2="342.35" y2="17.93" stroke="#ebebeb" stroke-width="0.5"/>
<line x1="358.91" y1="5.4" x2="358.91" y2="17.93" stroke="#ebebeb" stroke-width="0.5"/>
<line x1="375.47" y1="5.4" x2="375.47" y2="17.93" stroke="#ebebeb" stroke-width="0.5"/>
<line x1="392.02" y1="5.4" x2="392.02" y2="17.93" stroke="#ebebeb" stroke-width="0.5"/>
<line x1="408.58" y1="5.4" x2="408.58" y2="17.93" stroke="#ebebeb" stroke-width="0.5"/>
<line x1="425.14" y1="5.4" x2="425.14" y2="17.93" stroke="#ebebeb" stroke-width="0.5"/>
<line x1="441.69" y1="5.4" x2="441.69" y2="17.93" stroke="#ebebeb" stroke-width="0.5"/>
<line x1="458.25" y1="5.4" x2="458.25" y2="17.93" stroke="#ebebeb" stroke-width="0.5"/>
<line x1="474.81" y1="5.4" x2="474.81" y2="17.93" stroke="#ebebeb" stroke-width="0.5"/>
<line x1="491.37" y1="5.4" x2="491.37" y2="17.93" stroke="#ebebeb" stroke-width="0.5"/>
<line x1="299.3" y1="11.47" x2="501.3" y2="11.47" stroke="#ebebeb" stroke-width="0.5"/>
<rect x="300.96" y="6.25" width="17.16" height="11.04" fill="#ffd6c8"/>
<rect x="317.52" y="6.25" width="17.16" height="11.04" fill="#ffbda8"/>
<rect x="334.07" y="6.25" width="17.16" height="11.04" fill="#ff8a6a"/>
<rect x="350.63" y="6.25" width="17.16" height="11.04" fill="#ffcdbd"/>
<rect x="367.19" y="6.25" width="17.16" height="11.04" fill="#ffb49d"/>
<rect x="383.75" y="6.25" width="17.16" height="11.04" fill="#ffded3"/>
<rect x="400.30" y="6.25" width="17.16" height="11.04" fill="#ffded3"/>
<rect x="416.86" y="6.25" width="17.16" height="11.04" fill="#f9f5ff"/>
<rect x="433.42" y="6.25" width="17.16" height="11.04" fill="#e7d6ff"/>
<rect x="449.97" y="6.25" width="17.16" height="11.04" fill="#af86ff"/>
<rect x="300.96" y="16.70" width="17.16" height="11.04" fill="#ffe6de"/>
<rect x="317.52" y="16.70" width="17.16" height="11.04" fill="#ffbda8"/>
<rect x="334.07" y="16.70" width="17.16" height="11.04" fill="#ff7856"/>
<rect x="350.63" y="16.70" width="17.16" height="11.04" fill="#ffd6c8"/>
<rect x="367.19" y="16.70" width="17.16" height="11.04" fill="#ffbda8"/>
<rect x="383.75" y="16.70" width="17.16" height="11.04" fill="#ffded3"/>
<rect x="400.30" y="16.70" width="17.16" height="11.04" fill="#ffe6de"/>
<rect x="416.86" y="16.70" width="17.16" height="11.04" fill="#e7d6ff"/>
<rect x="433.42" y="16.70" width="17.16" height="11.04" fill="#e1ccff"/>
<rect x="449.97" y="16.70" width="17.16" height="11.04" fill="#b790ff"/>
<rect x="466.53" y="16.70" width="17.16" height="11.04" fill="#764aff"/>
<rect x="483.09" y="16.70" width="17.16" height="11.04" fill="#be9aff"/>
<rect x="300.96" y="27.14" width="17.16" height="11.04" fill="#ffd6c8"/>
<rect x="317.52" y="27.14" width="17.16" height="11.04" fill="#ffb49d"/>
<rect x="334.07" y="27.14" width="17.16" height="11.04" fill="#ff8a6a"/>
<rect x="350.63" y="27.14" width="17.16" height="11.04" fill="#ffcdbd"/>
<rect x="367.19" y="27.14" width="17.16" height="11.04" fill="#ffc5b3"/>
<rect x="383.75" y="27.14" width="17.16" height="11.04" fill="#ffcdbd"/>
<rect x="400.30" y="27.14" width="17.16" height="11.04" fill="#ffeee9"/>
<rect x="416.86" y="27.14" width="17.16" height="11.04" fill="#e1ccff"/>
<rect x="433.42" y="27.14" width="17.16" height="11.04" fill="#e1ccff"/>
<rect x="449.97" y="27.14" width="17.16" height="11.04" fill="#b790ff"/>
<rect x="466.53" y="27.14" width="17.16" height="11.04" fill="#8154ff"/>
<rect x="483.09" y="27.14" width="17.16" height="11.04" fill="#b790ff"/>
<rect x="300.96" y="37.59" width="17.16" height="11.04" fill="#ffe6de"/>
<rect x="317.52" y="37.59" width="17.16" height="11.04" fill="#ffbda8"/>
<rect x="334.07" y="37.59" width="17.16" height="11.04" fill="#ff7856"/>
<rect x="350.63" y="37.59" width="17.16" height="11.04" fill="#ffcdbd"/>
<rect x="367.19" y="37.59" width="17.16" height="11.04" fill="#ffc5b3"/>
<rect x="383.75" y="37.59" width="17.16" height="11.04" fill="#ffcdbd"/>
<rect x="400.30" y="37.59" width="17.16" height="11.04" fill="#ffeee9"/>
<rect x="416.86" y="37.59" width="17.16" height="11.04" fill="#e7d6ff"/>
<rect x="433.42" y="37.59" width="17.16" height="11.04" fill="#e1ccff"/>
<rect x="449.97" y="37.59" width="17.16" height="11.04" fill="#be9aff"/>
<rect x="466.53" y="37.59" width="17.16" height="11.04" fill="#764aff"/>
<rect x="483.09" y="37.59" width="17.16" height="11.04" fill="#af86ff"/>
<rect x="300.96" y="48.03" width="17.16" height="11.04" fill="#ffe6de"/>
<rect x="317.52" y="48.03" width="17.16" height="11.04" fill="#ffc5b3"/>
<rect x="334.07" y="48.03" width="17.16" height="11.04" fill="#ff8a6a"/>
<rect x="350.63" y="48.03" width="17.16" height="11.04" fill="#ffbda8"/>
<rect x="367.19" y="48.03" width="17.16" height="11.04" fill="#ffbda8"/>
<rect x="383.75" y="48.03" width="17.16" height="11.04" fill="#ffcdbd"/>
<rect x="400.30" y="48.03" width="17.16" height="11.04" fill="#ffded3"/>
<rect x="416.86" y="48.03" width="17.16" height="11.04" fill="#e1ccff"/>
<rect x="433.42" y="48.03" width="17.16" height="11.04" fill="#dac2ff"/>
<rect x="449.97" y="48.03" width="17.16" height="11.04" fill="#c6a4ff"/>
<rect x="466.53" y="48.03" width="17.16" height="11.04" fill="#8b5eff"/>
<rect x="483.09" y="48.03" width="17.16" height="11.04" fill="#9e72ff"/>
<rect x="300.96" y="58.48" width="17.16" height="11.04" fill="#f9f5ff"/>
<rect x="317.52" y="58.48" width="17.16" height="11.04" fill="#ffcdbd"/>
<rect x="334.07" y="58.48" width="17.16" height="11.04" fill="#ff8a6a"/>
<rect x="350.63" y="58.48" width="17.16" height="11.04" fill="#ffb49d"/>
<rect x="367.19" y="58.48" width="17.16" height="11.04" fill="#ffb49d"/>
<rect x="383.75" y="58.48" width="17.16" height="11.04" fill="#ffb49d"/>
<rect x="400.30" y="58.48" width="17.16" height="11.04" fill="#ffeee9"/>
<rect x="416.86" y="58.48" width="17.16" height="11.04" fill="#e7d6ff"/>
<rect x="433.42" y="58.48" width="17.16" height="11.04" fill="#dac2ff"/>
<rect x="449.97" y="58.48" width="17.16" height="11.04" fill="#c6a4ff"/>
<rect x="466.53" y="58.48" width="17.16" height="11.04" fill="#8b5eff"/>
<rect x="483.09" y="58.48" width="17.16" height="11.04" fill="#8b5eff"/>
<rect x="300.96" y="68.92" width="17.16" height="11.04" fill="#f3eaff"/>
<rect x="317.52" y="68.92" width="17.16" height="11.04" fill="#ffd6c8"/>
<rect x="334.07" y="68.92" width="17.16" height="11.04" fill="#ff6e4c"/>
<rect x="350.63" y="68.92" width="17.16" height="11.04" fill="#ff8a6a"/>
<rect x="367.19" y="68.92" width="17.16" height="11.04" fill="#ff9b7e"/>
<rect x="383.75" y="68.92" width="17.16" height="11.04" fill="#ffcdbd"/>
<rect x="400.30" y="68.92" width="17.16" height="11.04" fill="#f9f5ff"/>
<rect x="416.86" y="68.92" width="17.16" height="11.04" fill="#e1ccff"/>
<rect x="433.42" y="68.92" width="17.16" height="11.04" fill="#d4b8ff"/>
<rect x="449.97" y="68.92" width="17.16" height="11.04" fill="#d4b8ff"/>
<rect x="466.53" y="68.92" width="17.16" height="11.04" fill="#8b5eff"/>
<rect x="483.09" y="68.92" width="17.16" height="11.04" fill="#8b5eff"/>
<rect x="300.96" y="79.37" width="17.16" height="11.04" fill="#dac2ff"/>
<rect x="317.52" y="79.37" width="17.16" height="11.04" fill="#ffded3"/>
<rect x="334.07" y="79.37" width="17.16" height="11.04" fill="#ff7856"/>
<rect x="350.63" y="79.37" width="17.16" height="11.04" fill="#ff9b7e"/>
<rect x="367.19" y="79.37" width="17.16" height="11.04" fill="#ffbda8"/>
<rect x="383.75" y="79.37" width="17.16" height="11.04" fill="#ffb49d"/>
<rect x="400.30" y="79.37" width="17.16" height="11.04" fill="#fff7f4"/>
<rect x="416.86" y="79.37" width="17.16" height="11.04" fill="#ede0ff"/>
<rect x="433.42" y="79.37" width="17.16" height="11.04" fill="#dac2ff"/>
<rect x="449.97" y="79.37" width="17.16" height="11.04" fill="#dac2ff"/>
<rect x="466.53" y="79.37" width="17.16" height="11.04" fill="#8b5eff"/>
<rect x="483.09" y="79.37" width="17.16" height="11.04" fill="#9e72ff"/>
<rect x="300.96" y="89.81" width="17.16" height="11.04" fill="#d4b8ff"/>
<rect x="317.52" y="89.81" width="17.16" height="11.04" fill="#ffded3"/>
<rect x="334.07" y="89.81" width="17.16" height="11.04" fill="#ff9274"/>
<rect x="350.63" y="89.81" width="17.16" height="11.04" fill="#ff8160"/>
<rect x="367.19" y="89.81" width="17.16" height="11.04" fill="#ffa489"/>
<rect x="383.75" y="89.81" width="17.16" height="11.04" fill="#ffbda8"/>
<rect x="400.30" y="89.81" width="17.16" height="11.04" fill="#ffe6de"/>
<rect x="416.86" y="89.81" width="17.16" height="11.04" fill="#e7d6ff"/>
<rect x="433.42" y="89.81" width="17.16" height="11.04" fill="#e1ccff"/>
<rect x="449.97" y="89.81" width="17.16" height="11.04" fill="#e7d6ff"/>
<rect x="466.53" y="89.81" width="17.16" height="11.04" fill="#8b5eff"/>
<rect x="483.09" y="89.81" width="17.16" height="11.04" fill="#8154ff"/>
<rect x="300.96" y="100.25" width="17.16" height="11.04" fill="#c6a4ff"/>
<rect x="317.52" y="100.25" width="17.16" height="11.04" fill="#ffffff"/>
<rect x="334.07" y="100.25" width="17.16" height="11.04" fill="#ff8160"/>
<rect x="350.63" y="100.25" width="17.16" height="11.04" fill="#ff8160"/>
<rect x="367.19" y="100.25" width="17.16" height="11.04" fill="#ff9b7e"/>
<rect x="383.75" y="100.25" width="17.16" height="11.04" fill="#ffac93"/>
<rect x="400.30" y="100.25" width="17.16" height="11.04" fill="#ffeee9"/>
<rect x="416.86" y="100.25" width="17.16" height="11.04" fill="#e1ccff"/>
<rect x="433.42" y="100.25" width="17.16" height="11.04" fill="#cdaeff"/>
<rect x="449.97" y="100.25" width="17.16" height="11.04" fill="#ede0ff"/>
<rect x="466.53" y="100.25" width="17.16" height="11.04" fill="#9e72ff"/>
<rect x="483.09" y="100.25" width="17.16" height="11.04" fill="#8b5eff"/>
<rect x="300.96" y="110.70" width="17.16" height="11.04" fill="#b790ff"/>
<rect x="317.52" y="110.70" width="17.16" height="11.04" fill="#ffffff"/>
<rect x="334.07" y="110.70" width="17.16" height="11.04" fill="#ff7856"/>
<rect x="350.63" y="110.70" width="17.16" height="11.04" fill="#ff7856"/>
<rect x="367.19" y="110.70" width="17.16" height="11.04" fill="#ff8a6a"/>
<rect x="383.75" y="110.70" width="17.16" height="11.04" fill="#ffb49d"/>
<rect x="400.30" y="110.70" width="17.16" height="11.04" fill="#ffded3"/>
<rect x="416.86" y="110.70" width="17.16" height="11.04" fill="#e1ccff"/>
<rect x="433.42" y="110.70" width="17.16" height="11.04" fill="#dac2ff"/>
<rect x="449.97" y="110.70" width="17.16" height="11.04" fill="#e7d6ff"/>
<rect x="466.53" y="110.70" width="17.16" height="11.04" fill="#8b5eff"/>
<rect x="483.09" y="110.70" width="17.16" height="11.04" fill="#8b5eff"/>
<rect x="300.96" y="121.15" width="17.16" height="11.04" fill="#9e72ff"/>
<rect x="317.52" y="121.15" width="17.16" height="11.04" fill="#ede0ff"/>
<rect x="334.07" y="121.15" width="17.16" height="11.04" fill="#ffa489"/>
<rect x="350.63" y="121.15" width="17.16" height="11.04" fill="#ff6e4c"/>
<rect x="367.19" y="121.15" width="17.16" height="11.04" fill="#ff9b7e"/>
<rect x="383.75" y="121.15" width="17.16" height="11.04" fill="#ffac93"/>
<rect x="400.30" y="121.15" width="17.16" height="11.04" fill="#ffcdbd"/>
<rect x="416.86" y="121.15" width="17.16" height="11.04" fill="#f3eaff"/>
<rect x="433.42" y="121.15" width="17.16" height="11.04" fill="#cdaeff"/>
<rect x="449.97" y="121.15" width="17.16" height="11.04" fill="#ede0ff"/>
<rect x="466.53" y="121.15" width="17.16" height="11.04" fill="#9e72ff"/>
<rect x="483.09" y="121.15" width="17.16" height="11.04" fill="#9e72ff"/>
<rect x="300.96" y="131.59" width="17.16" height="11.04" fill="#764aff"/>
<rect x="317.52" y="131.59" width="17.16" height="11.04" fill="#f3eaff"/>
<rect x="334.07" y="131.59" width="17.16" height="11.04" fill="#ff8160"/>
<rect x="350.63" y="131.59" width="17.16" height="11.04" fill="#ff8160"/>
<rect x="367.19" y="131.59" width="17.16" height="11.04" fill="#ff8a6a"/>
<rect x="383.75" y="131.59" width="17.16" height="11.04" fill="#ff9274"/>
<rect x="400.30" y="131.59" width="17.16" height="11.04" fill="#ffc5b3"/>
<rect x="416.86" y="131.59" width="17.16" height="11.04" fill="#f9f5ff"/>
<rect x="433.42" y="131.59" width="17.16" height="11.04" fill="#dac2ff"/>
<rect x="449.97" y="131.59" width="17.16" height="11.04" fill="#ede0ff"/>
<rect x="466.53" y="131.59" width="17.16" height="11.04" fill="#9e72ff"/>
<rect x="483.09" y="131.59" width="17.16" height="11.04" fill="#8b5eff"/>
<rect x="300.96" y="142.03" width="17.16" height="11.04" fill="#764aff"/>
<rect x="317.52" y="142.03" width="17.16" height="11.04" fill="#f3eaff"/>
<rect x="334.07" y="142.03" width="17.16" height="11.04" fill="#ff9b7e"/>
<rect x="350.63" y="142.03" width="17.16" height="11.04" fill="#ff7856"/>
<rect x="367.19" y="142.03" width="17.16" height="11.04" fill="#ffac93"/>
<rect x="383.75" y="142.03" width="17.16" height="11.04" fill="#ff9b7e"/>
<rect x="400.30" y="142.03" width="17.16" height="11.04" fill="#ffac93"/>
<rect x="416.86" y="142.03" width="17.16" height="11.04" fill="#ffffff"/>
<rect x="433.42" y="142.03" width="17.16" height="11.04" fill="#e1ccff"/>
<rect x="449.97" y="142.03" width="17.16" height="11.04" fill="#e1ccff"/>
<rect x="466.53" y="142.03" width="17.16" height="11.04" fill="#8b5eff"/>
<rect x="483.09" y="142.03" width="17.16" height="11.04" fill="#8b5eff"/>
<rect x="300.96" y="152.48" width="17.16" height="11.04" fill="#8b5eff"/>
<rect x="317.52" y="152.48" width="17.16" height="11.04" fill="#e7d6ff"/>
<rect x="334.07" y="152.48" width="17.16" height="11.04" fill="#ff9274"/>
<rect x="350.63" y="152.48" width="17.16" height="11.04" fill="#ff6e4c"/>
<rect x="367.19" y="152.48" width="17.16" height="11.04" fill="#ffa489"/>
<rect x="383.75" y="152.48" width="17.16" height="11.04" fill="#ffac93"/>
<rect x="400.30" y="152.48" width="17.16" height="11.04" fill="#ffac93"/>
<rect x="416.86" y="152.48" width="17.16" height="11.04" fill="#f3eaff"/>
<rect x="433.42" y="152.48" width="17.16" height="11.04" fill="#e1ccff"/>
<rect x="449.97" y="152.48" width="17.16" height="11.04" fill="#e1ccff"/>
<rect x="466.53" y="152.48" width="17.16" height="11.04" fill="#8b5eff"/>
<rect x="483.09" y="152.48" width="17.16" height="11.04" fill="#9568ff"/>
<rect x="300.96" y="162.93" width="17.16" height="11.04" fill="#9e72ff"/>
<rect x="317.52" y="162.93" width="17.16" height="11.04" fill="#dac2ff"/>
<rect x="334.07" y="162.93" width="17.16" height="11.04" fill="#ffac93"/>
<rect x="350.63" y="162.93" width="17.16" height="11.04" fill="#ff8a6a"/>
<rect x="367.19" y="162.93" width="17.16" height="11.04" fill="#ffbda8"/>
<rect x="383.75" y="162.93" width="17.16" height="11.04" fill="#ff9274"/>
<rect x="400.30" y="162.93" width="17.16" height="11.04" fill="#ffa489"/>
<rect x="416.86" y="162.93" width="17.16" height="11.04" fill="#ffe6de"/>
<rect x="433.42" y="162.93" width="17.16" height="11.04" fill="#d4b8ff"/>
<rect x="449.97" y="162.93" width="17.16" height="11.04" fill="#ffffff"/>
<rect x="466.53" y="162.93" width="17.16" height="11.04" fill="#8154ff"/>
<rect x="483.09" y="162.93" width="17.16" height="11.04" fill="#764aff"/>
<rect x="300.96" y="173.37" width="17.16" height="11.04" fill="#8b5eff"/>
<rect x="317.52" y="173.37" width="17.16" height="11.04" fill="#ede0ff"/>
<rect x="334.07" y="173.37" width="17.16" height="11.04" fill="#ffac93"/>
<rect x="350.63" y="173.37" width="17.16" height="11.04" fill="#ffac93"/>
<rect x="367.19" y="173.37" width="17.16" height="11.04" fill="#ff6e4c"/>
<rect x="383.75" y="173.37" width="17.16" height="11.04" fill="#ffa489"/>
<rect x="400.30" y="173.37" width="17.16" height="11.04" fill="#ffbda8"/>
<rect x="416.86" y="173.37" width="17.16" height="11.04" fill="#ffd6c8"/>
<rect x="433.42" y="173.37" width="17.16" height="11.04" fill="#ede0ff"/>
<rect x="449.97" y="173.37" width="17.16" height="11.04" fill="#f3eaff"/>
<rect x="466.53" y="173.37" width="17.16" height="11.04" fill="#8154ff"/>
<rect x="483.09" y="173.37" width="17.16" height="11.04" fill="#8154ff"/>
<rect x="300.96" y="183.81" width="17.16" height="11.04" fill="#b790ff"/>
<rect x="317.52" y="183.81" width="17.16" height="11.04" fill="#f9f5ff"/>
<rect x="334.07" y="183.81" width="17.16" height="11.04" fill="#ff8160"/>
<rect x="350.63" y="183.81" width="17.16" height="11.04" fill="#ff9b7e"/>
<rect x="367.19" y="183.81" width="17.16" height="11.04" fill="#ff9274"/>
<rect x="383.75" y="183.81" width="17.16" height="11.04" fill="#ffac93"/>
<rect x="400.30" y="183.81" width="17.16" height="11.04" fill="#ffd6c8"/>
<rect x="416.86" y="183.81" width="17.16" height="11.04" fill="#ffe6de"/>
<rect x="433.42" y="183.81" width="17.16" height="11.04" fill="#d4b8ff"/>
<rect x="449.97" y="183.81" width="17.16" height="11.04" fill="#dac2ff"/>
<rect x="466.53" y="183.81" width="17.16" height="11.04" fill="#8b5eff"/>
<rect x="483.09" y="183.81" width="17.16" height="11.04" fill="#9568ff"/>
<rect x="300.96" y="194.26" width="17.16" height="11.04" fill="#c6a4ff"/>
<rect x="317.52" y="194.26" width="17.16" height="11.04" fill="#ffffff"/>
<rect x="334.07" y="194.26" width="17.16" height="11.04" fill="#ff7856"/>
<rect x="350.63" y="194.26" width="17.16" height="11.04" fill="#ffc5b3"/>
<rect x="367.19" y="194.26" width="17.16" height="11.04" fill="#ff9274"/>
<rect x="383.75" y="194.26" width="17.16" height="11.04" fill="#ffac93"/>
<rect x="400.30" y="194.26" width="17.16" height="11.04" fill="#ffe6de"/>
<rect x="416.86" y="194.26" width="17.16" height="11.04" fill="#ffeee9"/>
<rect x="433.42" y="194.26" width="17.16" height="11.04" fill="#dac2ff"/>
<rect x="449.97" y="194.26" width="17.16" height="11.04" fill="#dac2ff"/>
<rect x="466.53" y="194.26" width="17.16" height="11.04" fill="#9568ff"/>
<rect x="483.09" y="194.26" width="17.16" height="11.04" fill="#9568ff"/>
<rect x="300.96" y="204.71" width="17.16" height="11.04" fill="#cdaeff"/>
<rect x="317.52" y="204.71" width="17.16" height="11.04" fill="#f9f5ff"/>
<rect x="334.07" y="204.71" width="17.16" height="11.04" fill="#ff8160"/>
<rect x="350.63" y="204.71" width="17.16" height="11.04" fill="#ffac93"/>
<rect x="367.19" y="204.71" width="17.16" height="11.04" fill="#ff9b7e"/>
<rect x="383.75" y="204.71" width="17.16" height="11.04" fill="#ffbda8"/>
<rect x="400.30" y="204.71" width="17.16" height="11.04" fill="#fff7f4"/>
<rect x="416.86" y="204.71" width="17.16" height="11.04" fill="#ffd6c8"/>
<rect x="433.42" y="204.71" width="17.16" height="11.04" fill="#e7d6ff"/>
<rect x="449.97" y="204.71" width="17.16" height="11.04" fill="#dac2ff"/>
<rect x="466.53" y="204.71" width="17.16" height="11.04" fill="#9568ff"/>
<rect x="483.09" y="204.71" width="17.16" height="11.04" fill="#8b5eff"/>
<rect x="300.96" y="215.15" width="17.16" height="11.04" fill="#cdaeff"/>
<rect x="317.52" y="215.15" width="17.16" height="11.04" fill="#ffcdbd"/>
<rect x="334.07" y="215.15" width="17.16" height="11.04" fill="#ff7856"/>
<rect x="350.63" y="215.15" width="17.16" height="11.04" fill="#ffac93"/>
<rect x="367.19" y="215.15" width="17.16" height="11.04" fill="#ffa489"/>
<rect x="383.75" y="215.15" width="17.16" height="11.04" fill="#ffc5b3"/>
<rect x="400.30" y="215.15" width="17.16" height="11.04" fill="#ffcdbd"/>
<rect x="416.86" y="215.15" width="17.16" height="11.04" fill="#ffded3"/>
<rect x="433.42" y="215.15" width="17.16" height="11.04" fill="#d4b8ff"/>
<rect x="449.97" y="215.15" width="17.16" height="11.04" fill="#d4b8ff"/>
<rect x="466.53" y="215.15" width="17.16" height="11.04" fill="#9e72ff"/>
<rect x="483.09" y="215.15" width="17.16" height="11.04" fill="#5b34ff"/>
<rect x="300.96" y="225.59" width="17.16" height="11.04" fill="#c6a4ff"/>
<rect x="317.52" y="225.59" width="17.16" height="11.04" fill="#ffd6c8"/>
<rect x="334.07" y="225.59" width="17.16" height="11.04" fill="#fd6442"/>
<rect x="350.63" y="225.59" width="17.16" height="11.04" fill="#ffbda8"/>
<rect x="367.19" y="225.59" width="17.16" height="11.04" fill="#ff9b7e"/>
<rect x="383.75" y="225.59" width="17.16" height="11.04" fill="#ffbda8"/>
<rect x="400.30" y="225.59" width="17.16" height="11.04" fill="#ffeee9"/>
<rect x="416.86" y="225.59" width="17.16" height="11.04" fill="#ffded3"/>
<rect x="433.42" y="225.59" width="17.16" height="11.04" fill="#e7d6ff"/>
<rect x="449.97" y="225.59" width="17.16" height="11.04" fill="#cdaeff"/>
<rect x="466.53" y="225.59" width="17.16" height="11.04" fill="#8154ff"/>
<rect x="483.09" y="225.59" width="17.16" height="11.04" fill="#5b34ff"/>
<rect x="300.96" y="236.04" width="17.16" height="11.04" fill="#be9aff"/>
<rect x="317.52" y="236.04" width="17.16" height="11.04" fill="#ffcdbd"/>
<rect x="334.07" y="236.04" width="17.16" height="11.04" fill="#ff6e4c"/>
<rect x="350.63" y="236.04" width="17.16" height="11.04" fill="#ffac93"/>
<rect x="367.19" y="236.04" width="17.16" height="11.04" fill="#ffbda8"/>
<rect x="383.75" y="236.04" width="17.16" height="11.04" fill="#ffd6c8"/>
<rect x="400.30" y="236.04" width="17.16" height="11.04" fill="#ffe6de"/>
<rect x="416.86" y="236.04" width="17.16" height="11.04" fill="#ffcdbd"/>
<rect x="433.42" y="236.04" width="17.16" height="11.04" fill="#dac2ff"/>
<rect x="449.97" y="236.04" width="17.16" height="11.04" fill="#cdaeff"/>
<rect x="466.53" y="236.04" width="17.16" height="11.04" fill="#9e72ff"/>
<rect x="483.09" y="236.04" width="17.16" height="11.04" fill="#5b34ff"/>
<rect x="300.96" y="246.49" width="17.16" height="11.04" fill="#cdaeff"/>
<rect x="317.52" y="246.49" width="17.16" height="11.04" fill="#ffcdbd"/>
<rect x="334.07" y="246.49" width="17.16" height="11.04" fill="#f84f2e"/>
<rect x="350.63" y="246.49" width="17.16" height="11.04" fill="#ffa489"/>
<rect x="367.19" y="246.49" width="17.16" height="11.04" fill="#ffbda8"/>
<rect x="383.75" y="246.49" width="17.16" height="11.04" fill="#ffbda8"/>
<rect x="400.30" y="246.49" width="17.16" height="11.04" fill="#ffded3"/>
<rect x="416.86" y="246.49" width="17.16" height="11.04" fill="#ffeee9"/>
<rect x="433.42" y="246.49" width="17.16" height="11.04" fill="#d4b8ff"/>
<rect x="449.97" y="246.49" width="17.16" height="11.04" fill="#c6a4ff"/>
<rect x="466.53" y="246.49" width="17.16" height="11.04" fill="#a77cff"/>
<rect x="483.09" y="246.49" width="17.16" height="11.04" fill="#693fff"/>
<rect x="300.96" y="256.93" width="17.16" height="11.04" fill="#cdaeff"/>
<rect x="317.52" y="256.93" width="17.16" height="11.04" fill="#ffb49d"/>
<rect x="334.07" y="256.93" width="17.16" height="11.04" fill="#ff6e4c"/>
<rect x="350.63" y="256.93" width="17.16" height="11.04" fill="#ffa489"/>
<rect x="367.19" y="256.93" width="17.16" height="11.04" fill="#ffbda8"/>
<rect x="383.75" y="256.93" width="17.16" height="11.04" fill="#ffc5b3"/>
<rect x="400.30" y="256.93" width="17.16" height="11.04" fill="#ffe6de"/>
<rect x="416.86" y="256.93" width="17.16" height="11.04" fill="#ffe6de"/>
<rect x="433.42" y="256.93" width="17.16" height="11.04" fill="#cdaeff"/>
<rect x="449.97" y="256.93" width="17.16" height="11.04" fill="#c6a4ff"/>
<rect x="466.53" y="256.93" width="17.16" height="11.04" fill="#9e72ff"/>
<rect x="483.09" y="256.93" width="17.16" height="11.04" fill="#4a27ff"/>
<rect x="300.96" y="267.38" width="17.16" height="11.04" fill="#cdaeff"/>
<rect x="317.52" y="267.38" width="17.16" height="11.04" fill="#ffbda8"/>
<rect x="334.07" y="267.38" width="17.16" height="11.04" fill="#ff6e4c"/>
<rect x="350.63" y="267.38" width="17.16" height="11.04" fill="#ff9b7e"/>
<rect x="367.19" y="267.38" width="17.16" height="11.04" fill="#ffbda8"/>
<rect x="383.75" y="267.38" width="17.16" height="11.04" fill="#ffc5b3"/>
<rect x="400.30" y="267.38" width="17.16" height="11.04" fill="#ffded3"/>
<rect x="416.86" y="267.38" width="17.16" height="11.04" fill="#ffd6c8"/>
<rect x="433.42" y="267.38" width="17.16" height="11.04" fill="#dac2ff"/>
<rect x="449.97" y="267.38" width="17.16" height="11.04" fill="#cdaeff"/>
<rect x="466.53" y="267.38" width="17.16" height="11.04" fill="#9568ff"/>
<rect x="483.09" y="267.38" width="17.16" height="11.04" fill="#3418ff"/>
<rect x="300.96" y="277.82" width="17.16" height="11.04" fill="#af86ff"/>
<rect x="317.52" y="277.82" width="17.16" height="11.04" fill="#ffded3"/>
<rect x="334.07" y="277.82" width="17.16" height="11.04" fill="#ff7856"/>
<rect x="350.63" y="277.82" width="17.16" height="11.04" fill="#ff8a6a"/>
<rect x="367.19" y="277.82" width="17.16" height="11.04" fill="#ffa489"/>
<rect x="383.75" y="277.82" width="17.16" height="11.04" fill="#ffbda8"/>
<rect x="400.30" y="277.82" width="17.16" height="11.04" fill="#ffe6de"/>
<rect x="416.86" y="277.82" width="17.16" height="11.04" fill="#ffcdbd"/>
<rect x="433.42" y="277.82" width="17.16" height="11.04" fill="#dac2ff"/>
<rect x="449.97" y="277.82" width="17.16" height="11.04" fill="#d4b8ff"/>
<rect x="466.53" y="277.82" width="17.16" height="11.04" fill="#8b5eff"/>
<rect x="483.09" y="277.82" width="17.16" height="11.04" fill="#0000ff"/>
<rect x="300.96" y="288.26" width="17.16" height="11.04" fill="#af86ff"/>
<rect x="317.52" y="288.26" width="17.16" height="11.04" fill="#ffe6de"/>
<rect x="334.07" y="288.26" width="17.16" height="11.04" fill="#ff6e4c"/>
<rect x="350.63" y="288.26" width="17.16" height="11.04" fill="#ff9274"/>
<rect x="367.19" y="288.26" width="17.16" height="11.04" fill="#ff9b7e"/>
<rect x="383.75" y="288.26" width="17.16" height="11.04" fill="#ffc5b3"/>
<rect x="400.30" y="288.26" width="17.16" height="11.04" fill="#ffe6de"/>
<rect x="416.86" y="288.26" width="17.16" height="11.04" fill="#ffcdbd"/>
<rect x="433.42" y="288.26" width="17.16" height="11.04" fill="#e7d6ff"/>
<rect x="449.97" y="288.26" width="17.16" height="11.04" fill="#d4b8ff"/>
<rect x="466.53" y="288.26" width="17.16" height="11.04" fill="#9568ff"/>
<rect x="483.09" y="288.26" width="17.16" height="11.04" fill="#0000ff"/>
<text transform="translate(309.24,14.02) scale(0.92,1)" class="n">105</text>
<text transform="translate(325.80,14.02) scale(0.92,1)" class="n">108</text>
<text transform="translate(342.35,14.02) scale(0.92,1)" class="n">114</text>
<text transform="translate(358.91,14.02) scale(0.92,1)" class="n">106</text>
<text transform="translate(375.47,14.02) scale(0.92,1)" class="n">109</text>
<text transform="translate(392.02,14.02) scale(0.92,1)" class="n">104</text>
<text transform="translate(408.58,14.02) scale(0.92,1)" class="n">104</text>
<text transform="translate(425.14,14.02) scale(0.92,1)" class="n">99</text>
<text transform="translate(441.69,14.02) scale(0.92,1)" class="n">96</text>
<text transform="translate(458.25,14.02) scale(0.92,1)" class="n">88</text>
<text transform="translate(309.24,24.47) scale(0.92,1)" class="n">103</text>
<text transform="translate(325.80,24.47) scale(0.92,1)" class="n">108</text>
<text transform="translate(342.35,24.47) scale(0.92,1)" class="n">116</text>
<text transform="translate(358.91,24.47) scale(0.92,1)" class="n">105</text>
<text transform="translate(375.47,24.47) scale(0.92,1)" class="n">108</text>
<text transform="translate(392.02,24.47) scale(0.92,1)" class="n">104</text>
<text transform="translate(408.58,24.47) scale(0.92,1)" class="n">103</text>
<text transform="translate(425.14,24.47) scale(0.92,1)" class="n">96</text>
<text transform="translate(441.69,24.47) scale(0.92,1)" class="n">95</text>
<text transform="translate(458.25,24.47) scale(0.92,1)" class="n">89</text>
<text transform="translate(474.81,24.47) scale(0.92,1)" class="n">82</text>
<text transform="translate(491.37,24.47) scale(0.92,1)" class="n">90</text>
<text transform="translate(309.24,34.91) scale(0.92,1)" class="n">105</text>
<text transform="translate(325.80,34.91) scale(0.92,1)" class="n">109</text>
<text transform="translate(342.35,34.91) scale(0.92,1)" class="n">114</text>
<text transform="translate(358.91,34.91) scale(0.92,1)" class="n">106</text>
<text transform="translate(375.47,34.91) scale(0.92,1)" class="n">107</text>
<text transform="translate(392.02,34.91) scale(0.92,1)" class="n">106</text>
<text transform="translate(408.58,34.91) scale(0.92,1)" class="n">102</text>
<text transform="translate(425.14,34.91) scale(0.92,1)" class="n">95</text>
<text transform="translate(441.69,34.91) scale(0.92,1)" class="n">95</text>
<text transform="translate(458.25,34.91) scale(0.92,1)" class="n">89</text>
<text transform="translate(474.81,34.91) scale(0.92,1)" class="n">83</text>
<text transform="translate(491.37,34.91) scale(0.92,1)" class="n">89</text>
<text transform="translate(309.24,45.36) scale(0.92,1)" class="n">103</text>
<text transform="translate(325.80,45.36) scale(0.92,1)" class="n">108</text>
<text transform="translate(342.35,45.36) scale(0.92,1)" class="n">116</text>
<text transform="translate(358.91,45.36) scale(0.92,1)" class="n">106</text>
<text transform="translate(375.47,45.36) scale(0.92,1)" class="n">107</text>
<text transform="translate(392.02,45.36) scale(0.92,1)" class="n">106</text>
<text transform="translate(408.58,45.36) scale(0.92,1)" class="n">102</text>
<text transform="translate(425.14,45.36) scale(0.92,1)" class="n">96</text>
<text transform="translate(441.69,45.36) scale(0.92,1)" class="n">95</text>
<text transform="translate(458.25,45.36) scale(0.92,1)" class="n">90</text>
<text transform="translate(474.81,45.36) scale(0.92,1)" class="n">82</text>
<text transform="translate(491.37,45.36) scale(0.92,1)" class="n">88</text>
<text transform="translate(309.24,55.80) scale(0.92,1)" class="n">103</text>
<text transform="translate(325.80,55.80) scale(0.92,1)" class="n">107</text>
<text transform="translate(342.35,55.80) scale(0.92,1)" class="n">114</text>
<text transform="translate(358.91,55.80) scale(0.92,1)" class="n">108</text>
<text transform="translate(375.47,55.80) scale(0.92,1)" class="n">108</text>
<text transform="translate(392.02,55.80) scale(0.92,1)" class="n">106</text>
<text transform="translate(408.58,55.80) scale(0.92,1)" class="n">104</text>
<text transform="translate(425.14,55.80) scale(0.92,1)" class="n">95</text>
<text transform="translate(441.69,55.80) scale(0.92,1)" class="n">94</text>
<text transform="translate(458.25,55.80) scale(0.92,1)" class="n">91</text>
<text transform="translate(474.81,55.80) scale(0.92,1)" class="n">84</text>
<text transform="translate(491.37,55.80) scale(0.92,1)" class="n">86</text>
<text transform="translate(309.24,66.25) scale(0.92,1)" class="n">99</text>
<text transform="translate(325.80,66.25) scale(0.92,1)" class="n">106</text>
<text transform="translate(342.35,66.25) scale(0.92,1)" class="n">114</text>
<text transform="translate(358.91,66.25) scale(0.92,1)" class="n">109</text>
<text transform="translate(375.47,66.25) scale(0.92,1)" class="n">109</text>
<text transform="translate(392.02,66.25) scale(0.92,1)" class="n">109</text>
<text transform="translate(408.58,66.25) scale(0.92,1)" class="n">102</text>
<text transform="translate(425.14,66.25) scale(0.92,1)" class="n">96</text>
<text transform="translate(441.69,66.25) scale(0.92,1)" class="n">94</text>
<text transform="translate(458.25,66.25) scale(0.92,1)" class="n">91</text>
<text transform="translate(474.81,66.25) scale(0.92,1)" class="n">84</text>
<text transform="translate(491.37,66.25) scale(0.92,1)" class="n">84</text>
<text transform="translate(309.24,76.69) scale(0.92,1)" class="n">98</text>
<text transform="translate(325.80,76.69) scale(0.92,1)" class="n">105</text>
<text transform="translate(342.35,76.69) scale(0.92,1)" class="n">117</text>
<text transform="translate(358.91,76.69) scale(0.92,1)" class="n">114</text>
<text transform="translate(375.47,76.69) scale(0.92,1)" class="n">112</text>
<text transform="translate(392.02,76.69) scale(0.92,1)" class="n">106</text>
<text transform="translate(408.58,76.69) scale(0.92,1)" class="n">99</text>
<text transform="translate(425.14,76.69) scale(0.92,1)" class="n">95</text>
<text transform="translate(441.69,76.69) scale(0.92,1)" class="n">93</text>
<text transform="translate(458.25,76.69) scale(0.92,1)" class="n">93</text>
<text transform="translate(474.81,76.69) scale(0.92,1)" class="n">84</text>
<text transform="translate(491.37,76.69) scale(0.92,1)" class="n">84</text>
<text transform="translate(309.24,87.14) scale(0.92,1)" class="n">94</text>
<text transform="translate(325.80,87.14) scale(0.92,1)" class="n">104</text>
<text transform="translate(342.35,87.14) scale(0.92,1)" class="n">116</text>
<text transform="translate(358.91,87.14) scale(0.92,1)" class="n">112</text>
<text transform="translate(375.47,87.14) scale(0.92,1)" class="n">108</text>
<text transform="translate(392.02,87.14) scale(0.92,1)" class="n">109</text>
<text transform="translate(408.58,87.14) scale(0.92,1)" class="n">101</text>
<text transform="translate(425.14,87.14) scale(0.92,1)" class="n">97</text>
<text transform="translate(441.69,87.14) scale(0.92,1)" class="n">94</text>
<text transform="translate(458.25,87.14) scale(0.92,1)" class="n">94</text>
<text transform="translate(474.81,87.14) scale(0.92,1)" class="n">84</text>
<text transform="translate(491.37,87.14) scale(0.92,1)" class="n">86</text>
<text transform="translate(309.24,97.58) scale(0.92,1)" class="n">93</text>
<text transform="translate(325.80,97.58) scale(0.92,1)" class="n">104</text>
<text transform="translate(342.35,97.58) scale(0.92,1)" class="n">113</text>
<text transform="translate(358.91,97.58) scale(0.92,1)" class="n">115</text>
<text transform="translate(375.47,97.58) scale(0.92,1)" class="n">111</text>
<text transform="translate(392.02,97.58) scale(0.92,1)" class="n">108</text>
<text transform="translate(408.58,97.58) scale(0.92,1)" class="n">103</text>
<text transform="translate(425.14,97.58) scale(0.92,1)" class="n">96</text>
<text transform="translate(441.69,97.58) scale(0.92,1)" class="n">95</text>
<text transform="translate(458.25,97.58) scale(0.92,1)" class="n">96</text>
<text transform="translate(474.81,97.58) scale(0.92,1)" class="n">84</text>
<text transform="translate(491.37,97.58) scale(0.92,1)" class="n">83</text>
<text transform="translate(309.24,108.03) scale(0.92,1)" class="n">91</text>
<text transform="translate(325.80,108.03) scale(0.92,1)" class="n">100</text>
<text transform="translate(342.35,108.03) scale(0.92,1)" class="n">115</text>
<text transform="translate(358.91,108.03) scale(0.92,1)" class="n">115</text>
<text transform="translate(375.47,108.03) scale(0.92,1)" class="n">112</text>
<text transform="translate(392.02,108.03) scale(0.92,1)" class="n">110</text>
<text transform="translate(408.58,108.03) scale(0.92,1)" class="n">102</text>
<text transform="translate(425.14,108.03) scale(0.92,1)" class="n">95</text>
<text transform="translate(441.69,108.03) scale(0.92,1)" class="n">92</text>
<text transform="translate(458.25,108.03) scale(0.92,1)" class="n">97</text>
<text transform="translate(474.81,108.03) scale(0.92,1)" class="n">86</text>
<text transform="translate(491.37,108.03) scale(0.92,1)" class="n">84</text>
<text transform="translate(309.24,118.47) scale(0.92,1)" class="n">89</text>
<text transform="translate(325.80,118.47) scale(0.92,1)" class="n">100</text>
<text transform="translate(342.35,118.47) scale(0.92,1)" class="n">116</text>
<text transform="translate(358.91,118.47) scale(0.92,1)" class="n">116</text>
<text transform="translate(375.47,118.47) scale(0.92,1)" class="n">114</text>
<text transform="translate(392.02,118.47) scale(0.92,1)" class="n">109</text>
<text transform="translate(408.58,118.47) scale(0.92,1)" class="n">104</text>
<text transform="translate(425.14,118.47) scale(0.92,1)" class="n">95</text>
<text transform="translate(441.69,118.47) scale(0.92,1)" class="n">94</text>
<text transform="translate(458.25,118.47) scale(0.92,1)" class="n">96</text>
<text transform="translate(474.81,118.47) scale(0.92,1)" class="n">84</text>
<text transform="translate(491.37,118.47) scale(0.92,1)" class="n">84</text>
<text transform="translate(309.24,128.92) scale(0.92,1)" class="n">86</text>
<text transform="translate(325.80,128.92) scale(0.92,1)" class="n">97</text>
<text transform="translate(342.35,128.92) scale(0.92,1)" class="n">111</text>
<text transform="translate(358.91,128.92) scale(0.92,1)" class="n">117</text>
<text transform="translate(375.47,128.92) scale(0.92,1)" class="n">112</text>
<text transform="translate(392.02,128.92) scale(0.92,1)" class="n">110</text>
<text transform="translate(408.58,128.92) scale(0.92,1)" class="n">106</text>
<text transform="translate(425.14,128.92) scale(0.92,1)" class="n">98</text>
<text transform="translate(441.69,128.92) scale(0.92,1)" class="n">92</text>
<text transform="translate(458.25,128.92) scale(0.92,1)" class="n">97</text>
<text transform="translate(474.81,128.92) scale(0.92,1)" class="n">86</text>
<text transform="translate(491.37,128.92) scale(0.92,1)" class="n">86</text>
<text transform="translate(309.24,139.36) scale(0.92,1)" class="n">82</text>
<text transform="translate(325.80,139.36) scale(0.92,1)" class="n">98</text>
<text transform="translate(342.35,139.36) scale(0.92,1)" class="n">115</text>
<text transform="translate(358.91,139.36) scale(0.92,1)" class="n">115</text>
<text transform="translate(375.47,139.36) scale(0.92,1)" class="n">114</text>
<text transform="translate(392.02,139.36) scale(0.92,1)" class="n">113</text>
<text transform="translate(408.58,139.36) scale(0.92,1)" class="n">107</text>
<text transform="translate(425.14,139.36) scale(0.92,1)" class="n">99</text>
<text transform="translate(441.69,139.36) scale(0.92,1)" class="n">94</text>
<text transform="translate(458.25,139.36) scale(0.92,1)" class="n">97</text>
<text transform="translate(474.81,139.36) scale(0.92,1)" class="n">86</text>
<text transform="translate(491.37,139.36) scale(0.92,1)" class="n">84</text>
<text transform="translate(309.24,149.81) scale(0.92,1)" class="n">82</text>
<text transform="translate(325.80,149.81) scale(0.92,1)" class="n">98</text>
<text transform="translate(342.35,149.81) scale(0.92,1)" class="n">112</text>
<text transform="translate(358.91,149.81) scale(0.92,1)" class="n">116</text>
<text transform="translate(375.47,149.81) scale(0.92,1)" class="n">110</text>
<text transform="translate(392.02,149.81) scale(0.92,1)" class="n">112</text>
<text transform="translate(408.58,149.81) scale(0.92,1)" class="n">110</text>
<text transform="translate(425.14,149.81) scale(0.92,1)" class="n">100</text>
<text transform="translate(441.69,149.81) scale(0.92,1)" class="n">95</text>
<text transform="translate(458.25,149.81) scale(0.92,1)" class="n">95</text>
<text transform="translate(474.81,149.81) scale(0.92,1)" class="n">84</text>
<text transform="translate(491.37,149.81) scale(0.92,1)" class="n">84</text>
<text transform="translate(309.24,160.25) scale(0.92,1)" class="n">84</text>
<text transform="translate(325.80,160.25) scale(0.92,1)" class="n">96</text>
<text transform="translate(342.35,160.25) scale(0.92,1)" class="n">113</text>
<text transform="translate(358.91,160.25) scale(0.92,1)" class="n">117</text>
<text transform="translate(375.47,160.25) scale(0.92,1)" class="n">111</text>
<text transform="translate(392.02,160.25) scale(0.92,1)" class="n">110</text>
<text transform="translate(408.58,160.25) scale(0.92,1)" class="n">110</text>
<text transform="translate(425.14,160.25) scale(0.92,1)" class="n">98</text>
<text transform="translate(441.69,160.25) scale(0.92,1)" class="n">95</text>
<text transform="translate(458.25,160.25) scale(0.92,1)" class="n">95</text>
<text transform="translate(474.81,160.25) scale(0.92,1)" class="n">84</text>
<text transform="translate(491.37,160.25) scale(0.92,1)" class="n">85</text>
<text transform="translate(309.24,170.70) scale(0.92,1)" class="n">86</text>
<text transform="translate(325.80,170.70) scale(0.92,1)" class="n">94</text>
<text transform="translate(342.35,170.70) scale(0.92,1)" class="n">110</text>
<text transform="translate(358.91,170.70) scale(0.92,1)" class="n">114</text>
<text transform="translate(375.47,170.70) scale(0.92,1)" class="n">108</text>
<text transform="translate(392.02,170.70) scale(0.92,1)" class="n">113</text>
<text transform="translate(408.58,170.70) scale(0.92,1)" class="n">111</text>
<text transform="translate(425.14,170.70) scale(0.92,1)" class="n">103</text>
<text transform="translate(441.69,170.70) scale(0.92,1)" class="n">93</text>
<text transform="translate(458.25,170.70) scale(0.92,1)" class="n">100</text>
<text transform="translate(474.81,170.70) scale(0.92,1)" class="n">83</text>
<text transform="translate(491.37,170.70) scale(0.92,1)" class="n">82</text>
<text transform="translate(309.24,181.14) scale(0.92,1)" class="n">84</text>
<text transform="translate(325.80,181.14) scale(0.92,1)" class="n">97</text>
<text transform="translate(342.35,181.14) scale(0.92,1)" class="n">110</text>
<text transform="translate(358.91,181.14) scale(0.92,1)" class="n">110</text>
<text transform="translate(375.47,181.14) scale(0.92,1)" class="n">117</text>
<text transform="translate(392.02,181.14) scale(0.92,1)" class="n">111</text>
<text transform="translate(408.58,181.14) scale(0.92,1)" class="n">108</text>
<text transform="translate(425.14,181.14) scale(0.92,1)" class="n">105</text>
<text transform="translate(441.69,181.14) scale(0.92,1)" class="n">97</text>
<text transform="translate(458.25,181.14) scale(0.92,1)" class="n">98</text>
<text transform="translate(474.81,181.14) scale(0.92,1)" class="n">83</text>
<text transform="translate(491.37,181.14) scale(0.92,1)" class="n">83</text>
<text transform="translate(309.24,191.59) scale(0.92,1)" class="n">89</text>
<text transform="translate(325.80,191.59) scale(0.92,1)" class="n">99</text>
<text transform="translate(342.35,191.59) scale(0.92,1)" class="n">115</text>
<text transform="translate(358.91,191.59) scale(0.92,1)" class="n">112</text>
<text transform="translate(375.47,191.59) scale(0.92,1)" class="n">113</text>
<text transform="translate(392.02,191.59) scale(0.92,1)" class="n">110</text>
<text transform="translate(408.58,191.59) scale(0.92,1)" class="n">105</text>
<text transform="translate(425.14,191.59) scale(0.92,1)" class="n">103</text>
<text transform="translate(441.69,191.59) scale(0.92,1)" class="n">93</text>
<text transform="translate(458.25,191.59) scale(0.92,1)" class="n">94</text>
<text transform="translate(474.81,191.59) scale(0.92,1)" class="n">84</text>
<text transform="translate(491.37,191.59) scale(0.92,1)" class="n">85</text>
<text transform="translate(309.24,202.03) scale(0.92,1)" class="n">91</text>
<text transform="translate(325.80,202.03) scale(0.92,1)" class="n">100</text>
<text transform="translate(342.35,202.03) scale(0.92,1)" class="n">116</text>
<text transform="translate(358.91,202.03) scale(0.92,1)" class="n">107</text>
<text transform="translate(375.47,202.03) scale(0.92,1)" class="n">113</text>
<text transform="translate(392.02,202.03) scale(0.92,1)" class="n">110</text>
<text transform="translate(408.58,202.03) scale(0.92,1)" class="n">103</text>
<text transform="translate(425.14,202.03) scale(0.92,1)" class="n">102</text>
<text transform="translate(441.69,202.03) scale(0.92,1)" class="n">94</text>
<text transform="translate(458.25,202.03) scale(0.92,1)" class="n">94</text>
<text transform="translate(474.81,202.03) scale(0.92,1)" class="n">85</text>
<text transform="translate(491.37,202.03) scale(0.92,1)" class="n">85</text>
<text transform="translate(309.24,212.48) scale(0.92,1)" class="n">92</text>
<text transform="translate(325.80,212.48) scale(0.92,1)" class="n">99</text>
<text transform="translate(342.35,212.48) scale(0.92,1)" class="n">115</text>
<text transform="translate(358.91,212.48) scale(0.92,1)" class="n">110</text>
<text transform="translate(375.47,212.48) scale(0.92,1)" class="n">112</text>
<text transform="translate(392.02,212.48) scale(0.92,1)" class="n">108</text>
<text transform="translate(408.58,212.48) scale(0.92,1)" class="n">101</text>
<text transform="translate(425.14,212.48) scale(0.92,1)" class="n">105</text>
<text transform="translate(441.69,212.48) scale(0.92,1)" class="n">96</text>
<text transform="translate(458.25,212.48) scale(0.92,1)" class="n">94</text>
<text transform="translate(474.81,212.48) scale(0.92,1)" class="n">85</text>
<text transform="translate(491.37,212.48) scale(0.92,1)" class="n">84</text>
<text transform="translate(309.24,222.92) scale(0.92,1)" class="n">92</text>
<text transform="translate(325.80,222.92) scale(0.92,1)" class="n">106</text>
<text transform="translate(342.35,222.92) scale(0.92,1)" class="n">116</text>
<text transform="translate(358.91,222.92) scale(0.92,1)" class="n">110</text>
<text transform="translate(375.47,222.92) scale(0.92,1)" class="n">111</text>
<text transform="translate(392.02,222.92) scale(0.92,1)" class="n">107</text>
<text transform="translate(408.58,222.92) scale(0.92,1)" class="n">106</text>
<text transform="translate(425.14,222.92) scale(0.92,1)" class="n">104</text>
<text transform="translate(441.69,222.92) scale(0.92,1)" class="n">93</text>
<text transform="translate(458.25,222.92) scale(0.92,1)" class="n">93</text>
<text transform="translate(474.81,222.92) scale(0.92,1)" class="n">86</text>
<text transform="translate(491.37,222.92) scale(0.92,1)" class="n">80</text>
<text transform="translate(309.24,233.37) scale(0.92,1)" class="n">91</text>
<text transform="translate(325.80,233.37) scale(0.92,1)" class="n">105</text>
<text transform="translate(342.35,233.37) scale(0.92,1)" class="n">118</text>
<text transform="translate(358.91,233.37) scale(0.92,1)" class="n">108</text>
<text transform="translate(375.47,233.37) scale(0.92,1)" class="n">112</text>
<text transform="translate(392.02,233.37) scale(0.92,1)" class="n">108</text>
<text transform="translate(408.58,233.37) scale(0.92,1)" class="n">102</text>
<text transform="translate(425.14,233.37) scale(0.92,1)" class="n">104</text>
<text transform="translate(441.69,233.37) scale(0.92,1)" class="n">96</text>
<text transform="translate(458.25,233.37) scale(0.92,1)" class="n">92</text>
<text transform="translate(474.81,233.37) scale(0.92,1)" class="n">83</text>
<text transform="translate(491.37,233.37) scale(0.92,1)" class="n">80</text>
<text transform="translate(309.24,243.81) scale(0.92,1)" class="n">90</text>
<text transform="translate(325.80,243.81) scale(0.92,1)" class="n">106</text>
<text transform="translate(342.35,243.81) scale(0.92,1)" class="n">117</text>
<text transform="translate(358.91,243.81) scale(0.92,1)" class="n">110</text>
<text transform="translate(375.47,243.81) scale(0.92,1)" class="n">108</text>
<text transform="translate(392.02,243.81) scale(0.92,1)" class="n">105</text>
<text transform="translate(408.58,243.81) scale(0.92,1)" class="n">103</text>
<text transform="translate(425.14,243.81) scale(0.92,1)" class="n">106</text>
<text transform="translate(441.69,243.81) scale(0.92,1)" class="n">94</text>
<text transform="translate(458.25,243.81) scale(0.92,1)" class="n">92</text>
<text transform="translate(474.81,243.81) scale(0.92,1)" class="n">86</text>
<text transform="translate(491.37,243.81) scale(0.92,1)" class="n">80</text>
<text transform="translate(309.24,254.26) scale(0.92,1)" class="n">92</text>
<text transform="translate(325.80,254.26) scale(0.92,1)" class="n">106</text>
<text transform="translate(342.35,254.26) scale(0.92,1)" class="n">120</text>
<text transform="translate(358.91,254.26) scale(0.92,1)" class="n">111</text>
<text transform="translate(375.47,254.26) scale(0.92,1)" class="n">108</text>
<text transform="translate(392.02,254.26) scale(0.92,1)" class="n">108</text>
<text transform="translate(408.58,254.26) scale(0.92,1)" class="n">104</text>
<text transform="translate(425.14,254.26) scale(0.92,1)" class="n">102</text>
<text transform="translate(441.69,254.26) scale(0.92,1)" class="n">93</text>
<text transform="translate(458.25,254.26) scale(0.92,1)" class="n">91</text>
<text transform="translate(474.81,254.26) scale(0.92,1)" class="n">87</text>
<text transform="translate(491.37,254.26) scale(0.92,1)" class="n">81</text>
<text transform="translate(309.24,264.70) scale(0.92,1)" class="n">92</text>
<text transform="translate(325.80,264.70) scale(0.92,1)" class="n">109</text>
<text transform="translate(342.35,264.70) scale(0.92,1)" class="n">117</text>
<text transform="translate(358.91,264.70) scale(0.92,1)" class="n">111</text>
<text transform="translate(375.47,264.70) scale(0.92,1)" class="n">108</text>
<text transform="translate(392.02,264.70) scale(0.92,1)" class="n">107</text>
<text transform="translate(408.58,264.70) scale(0.92,1)" class="n">103</text>
<text transform="translate(425.14,264.70) scale(0.92,1)" class="n">103</text>
<text transform="translate(441.69,264.70) scale(0.92,1)" class="n">92</text>
<text transform="translate(458.25,264.70) scale(0.92,1)" class="n">91</text>
<text transform="translate(474.81,264.70) scale(0.92,1)" class="n">86</text>
<text transform="translate(491.37,264.70) scale(0.92,1)" class="n">79</text>
<text transform="translate(309.24,275.15) scale(0.92,1)" class="n">92</text>
<text transform="translate(325.80,275.15) scale(0.92,1)" class="n">108</text>
<text transform="translate(342.35,275.15) scale(0.92,1)" class="n">117</text>
<text transform="translate(358.91,275.15) scale(0.92,1)" class="n">112</text>
<text transform="translate(375.47,275.15) scale(0.92,1)" class="n">108</text>
<text transform="translate(392.02,275.15) scale(0.92,1)" class="n">107</text>
<text transform="translate(408.58,275.15) scale(0.92,1)" class="n">104</text>
<text transform="translate(425.14,275.15) scale(0.92,1)" class="n">105</text>
<text transform="translate(441.69,275.15) scale(0.92,1)" class="n">94</text>
<text transform="translate(458.25,275.15) scale(0.92,1)" class="n">92</text>
<text transform="translate(474.81,275.15) scale(0.92,1)" class="n">85</text>
<text transform="translate(491.37,275.15) scale(0.92,1)" class="n">78</text>
<text transform="translate(309.24,285.59) scale(0.92,1)" class="n">88</text>
<text transform="translate(325.80,285.59) scale(0.92,1)" class="n">104</text>
<text transform="translate(342.35,285.59) scale(0.92,1)" class="n">116</text>
<text transform="translate(358.91,285.59) scale(0.92,1)" class="n">114</text>
<text transform="translate(375.47,285.59) scale(0.92,1)" class="n">111</text>
<text transform="translate(392.02,285.59) scale(0.92,1)" class="n">108</text>
<text transform="translate(408.58,285.59) scale(0.92,1)" class="n">103</text>
<text transform="translate(425.14,285.59) scale(0.92,1)" class="n">106</text>
<text transform="translate(441.69,285.59) scale(0.92,1)" class="n">94</text>
<text transform="translate(458.25,285.59) scale(0.92,1)" class="n">93</text>
<text transform="translate(474.81,285.59) scale(0.92,1)" class="n">84</text>
<text transform="translate(491.37,285.59) scale(0.92,1)" class="n">77</text>
<text transform="translate(309.24,296.04) scale(0.92,1)" class="n">88</text>
<text transform="translate(325.80,296.04) scale(0.92,1)" class="n">103</text>
<text transform="translate(342.35,296.04) scale(0.92,1)" class="n">117</text>
<text transform="translate(358.91,296.04) scale(0.92,1)" class="n">113</text>
<text transform="translate(375.47,296.04) scale(0.92,1)" class="n">112</text>
<text transform="translate(392.02,296.04) scale(0.92,1)" class="n">107</text>
<text transform="translate(408.58,296.04) scale(0.92,1)" class="n">103</text>
<text transform="translate(425.14,296.04) scale(0.92,1)" class="n">106</text>
<text transform="translate(441.69,296.04) scale(0.92,1)" class="n">96</text>
<text transform="translate(458.25,296.04) scale(0.92,1)" class="n">93</text>
<text transform="translate(474.81,296.04) scale(0.92,1)" class="n">85</text>
<text transform="translate(491.37,296.04) scale(0.92,1)" class="n">77</text>
<rect x="299.3" y="5.4" width="202.00" height="294.20" fill="none" stroke="#8a8a8a" stroke-width="0.6"/>
<path d="M299.3 5.4 V299.6 H501.3" fill="none" stroke="#505050" stroke-width="0.7"/>
<line x1="297.30" y1="11.47" x2="299.3" y2="11.47" stroke="#333" stroke-width="0.6"/>
<text x="296.3" y="13.37" class="yl">2024</text>
<line x1="297.30" y1="21.92" x2="299.3" y2="21.92" stroke="#333" stroke-width="0.6"/>
<text x="296.3" y="23.82" class="yl">2023</text>
<line x1="297.30" y1="32.36" x2="299.3" y2="32.36" stroke="#333" stroke-width="0.6"/>
<text x="296.3" y="34.26" class="yl">2022</text>
<line x1="297.30" y1="42.81" x2="299.3" y2="42.81" stroke="#333" stroke-width="0.6"/>
<text x="296.3" y="44.71" class="yl">2021</text>
<line x1="297.30" y1="53.25" x2="299.3" y2="53.25" stroke="#333" stroke-width="0.6"/>
<text x="296.3" y="55.15" class="yl">2020</text>
<line x1="297.30" y1="63.70" x2="299.3" y2="63.70" stroke="#333" stroke-width="0.6"/>
<text x="296.3" y="65.60" class="yl">2019</text>
<line x1="297.30" y1="74.14" x2="299.3" y2="74.14" stroke="#333" stroke-width="0.6"/>
<text x="296.3" y="76.04" class="yl">2018</text>
<line x1="297.30" y1="84.59" x2="299.3" y2="84.59" stroke="#333" stroke-width="0.6"/>
<text x="296.3" y="86.49" class="yl">2017</text>
<line x1="297.30" y1="95.03" x2="299.3" y2="95.03" stroke="#333" stroke-width="0.6"/>
<text x="296.3" y="96.93" class="yl">2016</text>
<line x1="297.30" y1="105.48" x2="299.3" y2="105.48" stroke="#333" stroke-width="0.6"/>
<text x="296.3" y="107.38" class="yl">2015</text>
<line x1="297.30" y1="115.92" x2="299.3" y2="115.92" stroke="#333" stroke-width="0.6"/>
<text x="296.3" y="117.82" class="yl">2014</text>
<line x1="297.30" y1="126.37" x2="299.3" y2="126.37" stroke="#333" stroke-width="0.6"/>
<text x="296.3" y="128.27" class="yl">2013</text>
<line x1="297.30" y1="136.81" x2="299.3" y2="136.81" stroke="#333" stroke-width="0.6"/>
<text x="296.3" y="138.71" class="yl">2012</text>
<line x1="297.30" y1="147.26" x2="299.3" y2="147.26" stroke="#333" stroke-width="0.6"/>
<text x="296.3" y="149.16" class="yl">2011</text>
<line x1="297.30" y1="157.70" x2="299.3" y2="157.70" stroke="#333" stroke-width="0.6"/>
<text x="296.3" y="159.60" class="yl">2010</text>
<line x1="297.30" y1="168.15" x2="299.3" y2="168.15" stroke="#333" stroke-width="0.6"/>
<text x="296.3" y="170.05" class="yl">2009</text>
<line x1="297.30" y1="178.59" x2="299.3" y2="178.59" stroke="#333" stroke-width="0.6"/>
<text x="296.3" y="180.49" class="yl">2008</text>
<line x1="297.30" y1="189.04" x2="299.3" y2="189.04" stroke="#333" stroke-width="0.6"/>
<text x="296.3" y="190.94" class="yl">2007</text>
<line x1="297.30" y1="199.48" x2="299.3" y2="199.48" stroke="#333" stroke-width="0.6"/>
<text x="296.3" y="201.38" class="yl">2006</text>
<line x1="297.30" y1="209.93" x2="299.3" y2="209.93" stroke="#333" stroke-width="0.6"/>
<text x="296.3" y="211.83" class="yl">2005</text>
<line x1="297.30" y1="220.37" x2="299.3" y2="220.37" stroke="#333" stroke-width="0.6"/>
<text x="296.3" y="222.27" class="yl">2004</text>
<line x1="297.30" y1="230.82" x2="299.3" y2="230.82" stroke="#333" stroke-width="0.6"/>
<text x="296.3" y="232.72" class="yl">2003</text>
<line x1="297.30" y1="241.26" x2="299.3" y2="241.26" stroke="#333" stroke-width="0.6"/>
<text x="296.3" y="243.16" class="yl">2002</text>
<line x1="297.30" y1="251.71" x2="299.3" y2="251.71" stroke="#333" stroke-width="0.6"/>
<text x="296.3" y="253.61" class="yl">2001</text>
<line x1="297.30" y1="262.15" x2="299.3" y2="262.15" stroke="#333" stroke-width="0.6"/>
<text x="296.3" y="264.05" class="yl">2000</text>
<line x1="297.30" y1="272.60" x2="299.3" y2="272.60" stroke="#333" stroke-width="0.6"/>
<text x="296.3" y="274.50" class="yl">1999</text>
<line x1="297.30" y1="283.04" x2="299.3" y2="283.04" stroke="#333" stroke-width="0.6"/>
<text x="296.3" y="284.94" class="yl">1998</text>
<line x1="297.30" y1="293.49" x2="299.3" y2="293.49" stroke="#333" stroke-width="0.6"/>
<text x="296.3" y="295.39" class="yl">1997</text>
<line x1="309.24" y1="299.6" x2="309.24" y2="301.6" stroke="#333" stroke-width="0.6"/>
<text x="309.24" y="306.20" class="xl">01</text>
<line x1="325.80" y1="299.6" x2="325.80" y2="301.6" stroke="#333" stroke-width="0.6"/>
<text x="325.80" y="306.20" class="xl">02</text>
<line x1="342.35" y1="299.6" x2="342.35" y2="301.6" stroke="#333" stroke-width="0.6"/>
<text x="342.35" y="306.20" class="xl">03</text>
<line x1="358.91" y1="299.6" x2="358.91" y2="301.6" stroke="#333" stroke-width="0.6"/>
<text x="358.91" y="306.20" class="xl">04</text>
<line x1="375.47" y1="299.6" x2="375.47" y2="301.6" stroke="#333" stroke-width="0.6"/>
<text x="375.47" y="306.20" class="xl">05</text>
<line x1="392.02" y1="299.6" x2="392.02" y2="301.6" stroke="#333" stroke-width="0.6"/>
<text x="392.02" y="306.20" class="xl">06</text>
<line x1="408.58" y1="299.6" x2="408.58" y2="301.6" stroke="#333" stroke-width="0.6"/>
<text x="408.58" y="306.20" class="xl">07</text>
<line x1="425.14" y1="299.6" x2="425.14" y2="301.6" stroke="#333" stroke-width="0.6"/>
<text x="425.14" y="306.20" class="xl">08</text>
<line x1="441.69" y1="299.6" x2="441.69" y2="301.6" stroke="#333" stroke-width="0.6"/>
<text x="441.69" y="306.20" class="xl">09</text>
<line x1="458.25" y1="299.6" x2="458.25" y2="301.6" stroke="#333" stroke-width="0.6"/>
<text x="458.25" y="306.20" class="xl">10</text>
<line x1="474.81" y1="299.6" x2="474.81" y2="301.6" stroke="#333" stroke-width="0.6"/>
<text x="474.81" y="306.20" class="xl">11</text>
<line x1="491.37" y1="299.6" x2="491.37" y2="301.6" stroke="#333" stroke-width="0.6"/>
<text x="491.37" y="306.20" class="xl">12</text>
<text x="400.30" y="313.0" class="at">Month</text>
<text transform="translate(283.9,153.0) rotate(-90)" class="at" x="0" y="0">Year</text>
<defs><linearGradient id="gUni" x1="0" y1="1" x2="0" y2="0"><stop offset="0.000" stop-color="#0000ff"/><stop offset="0.010" stop-color="#200cff"/><stop offset="0.020" stop-color="#3015ff"/><stop offset="0.030" stop-color="#3b1dff"/><stop offset="0.040" stop-color="#4523ff"/><stop offset="0.050" stop-color="#4d29ff"/><stop offset="0.060" stop-color="#542eff"/><stop offset="0.070" stop-color="#5b34ff"/><stop offset="0.080" stop-color="#6239ff"/><stop offset="0.090" stop-color="#683dff"/><stop offset="0.100" stop-color="#6d42ff"/><stop offset="0.110" stop-color="#7247ff"/><stop offset="0.120" stop-color="#784bff"/><stop offset="0.130" stop-color="#7c50ff"/><stop offset="0.140" stop-color="#8154ff"/><stop offset="0.150" stop-color="#8659ff"/><stop offset="0.160" stop-color="#8a5dff"/><stop offset="0.170" stop-color="#8e61ff"/><stop offset="0.180" stop-color="#9266ff"/><stop offset="0.190" stop-color="#966aff"/><stop offset="0.200" stop-color="#9a6eff"/><stop offset="0.210" stop-color="#9e73ff"/><stop offset="0.220" stop-color="#a277ff"/><stop offset="0.230" stop-color="#a67bff"/><stop offset="0.240" stop-color="#a97fff"/><stop offset="0.250" stop-color="#ad84ff"/><stop offset="0.260" stop-color="#b088ff"/><stop offset="0.270" stop-color="#b48cff"/><stop offset="0.280" stop-color="#b791ff"/><stop offset="0.290" stop-color="#ba95ff"/><stop offset="0.300" stop-color="#be99ff"/><stop offset="0.310" stop-color="#c19dff"/><stop offset="0.320" stop-color="#c4a2ff"/><stop offset="0.330" stop-color="#c7a6ff"/><stop offset="0.340" stop-color="#caaaff"/><stop offset="0.350" stop-color="#cdaeff"/><stop offset="0.360" stop-color="#d0b3ff"/><stop offset="0.370" stop-color="#d3b7ff"/><stop offset="0.380" stop-color="#d6bbff"/><stop offset="0.390" stop-color="#d9c0ff"/><stop offset="0.400" stop-color="#dcc4ff"/><stop offset="0.410" stop-color="#dec8ff"/><stop offset="0.420" stop-color="#e1cdff"/><stop offset="0.430" stop-color="#e4d1ff"/><stop offset="0.440" stop-color="#e7d5ff"/><stop offset="0.450" stop-color="#e9daff"/><stop offset="0.460" stop-color="#ecdeff"/><stop offset="0.470" stop-color="#efe2ff"/><stop offset="0.480" stop-color="#f1e7ff"/><stop offset="0.490" stop-color="#f4ebff"/><stop offset="0.500" stop-color="#f6f0ff"/><stop offset="0.510" stop-color="#f9f4ff"/><stop offset="0.520" stop-color="#fbf8ff"/><stop offset="0.530" stop-color="#fefdff"/><stop offset="0.540" stop-color="#fffdfd"/><stop offset="0.550" stop-color="#fffaf8"/><stop offset="0.560" stop-color="#fff6f3"/><stop offset="0.570" stop-color="#fff3ee"/><stop offset="0.580" stop-color="#ffefe9"/><stop offset="0.590" stop-color="#ffebe5"/><stop offset="0.600" stop-color="#ffe8e0"/><stop offset="0.610" stop-color="#ffe4db"/><stop offset="0.620" stop-color="#ffe1d6"/><stop offset="0.630" stop-color="#ffddd2"/><stop offset="0.640" stop-color="#ffdacd"/><stop offset="0.650" stop-color="#ffd6c8"/><stop offset="0.660" stop-color="#ffd3c4"/><stop offset="0.670" stop-color="#ffcfbf"/><stop offset="0.680" stop-color="#ffcbbb"/><stop offset="0.690" stop-color="#ffc8b6"/><stop offset="0.700" stop-color="#ffc4b1"/><stop offset="0.710" stop-color="#ffc1ad"/><stop offset="0.720" stop-color="#ffbda8"/><stop offset="0.730" stop-color="#ffbaa4"/><stop offset="0.740" stop-color="#ffb69f"/><stop offset="0.750" stop-color="#ffb29b"/><stop offset="0.760" stop-color="#ffaf96"/><stop offset="0.770" stop-color="#ffab92"/><stop offset="0.780" stop-color="#ffa78d"/><stop offset="0.790" stop-color="#ffa489"/><stop offset="0.800" stop-color="#ffa085"/><stop offset="0.810" stop-color="#ff9c80"/><stop offset="0.820" stop-color="#ff997c"/><stop offset="0.830" stop-color="#ff9577"/><stop offset="0.840" stop-color="#ff9173"/><stop offset="0.850" stop-color="#ff8e6f"/><stop offset="0.860" stop-color="#ff8a6a"/><stop offset="0.870" stop-color="#ff8666"/><stop offset="0.880" stop-color="#ff8262"/><stop offset="0.890" stop-color="#ff7e5e"/><stop offset="0.900" stop-color="#ff7a59"/><stop offset="0.910" stop-color="#ff7655"/><stop offset="0.920" stop-color="#ff7251"/><stop offset="0.930" stop-color="#ff6e4c"/><stop offset="0.940" stop-color="#fe6a48"/><stop offset="0.950" stop-color="#fd6644"/><stop offset="0.960" stop-color="#fc6240"/><stop offset="0.970" stop-color="#fb5d3b"/><stop offset="0.980" stop-color="#fa5937"/><stop offset="0.990" stop-color="#f95433"/><stop offset="1.000" stop-color="#f84f2e"/></linearGradient></defs>
<rect x="511.0" y="132.3" width="10.0" height="49.30" fill="url(#gUni)"/>
<text x="524.20" y="180.16" class="ll">80</text>
<text x="524.20" y="168.70" class="ll">90</text>
<text x="524.20" y="157.23" class="ll">100</text>
<text x="524.20" y="145.77" class="ll">110</text>
<text x="524.20" y="134.30" class="ll">120</text>
<text x="511.0" y="128.2" class="lt">United States</text>
</g></svg>
</body></html>
